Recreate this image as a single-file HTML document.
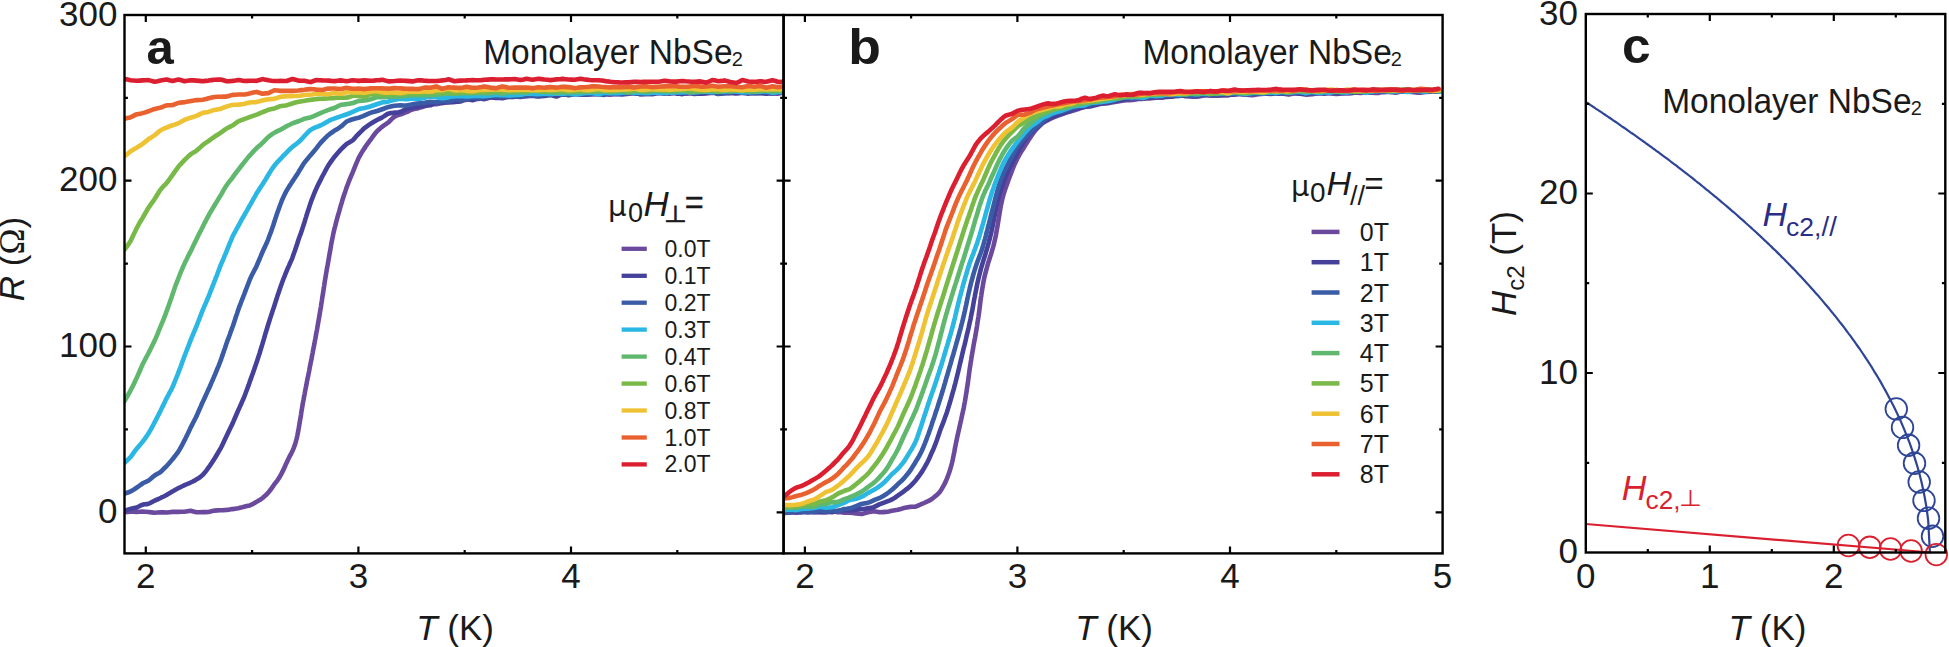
<!DOCTYPE html><html><head><meta charset="utf-8"><style>html,body{margin:0;padding:0;background:#fff;}svg{display:block}</style></head><body>
<svg width="1949" height="647" viewBox="0 0 1949 647">
<rect width="1949" height="647" fill="#fff"/>
<path d="M145.8,553.4L145.8,546.4M145.8,15.0L145.8,22.0M252.1,553.4L252.1,550.0M252.1,15.0L252.1,18.4M358.4,553.4L358.4,546.4M358.4,15.0L358.4,22.0M464.7,553.4L464.7,550.0M464.7,15.0L464.7,18.4M571.0,553.4L571.0,546.4M571.0,15.0L571.0,22.0M677.3,553.4L677.3,550.0M677.3,15.0L677.3,18.4M124.5,512.3L131.5,512.3M783.6,512.3L776.6,512.3M124.5,429.4L127.9,429.4M783.6,429.4L780.2,429.4M124.5,346.5L131.5,346.5M783.6,346.5L776.6,346.5M124.5,263.6L127.9,263.6M783.6,263.6L780.2,263.6M124.5,180.7L131.5,180.7M783.6,180.7L776.6,180.7M124.5,97.8L127.9,97.8M783.6,97.8L780.2,97.8M804.9,553.4L804.9,546.4M804.9,15.0L804.9,22.0M911.1,553.4L911.1,550.0M911.1,15.0L911.1,18.4M1017.4,553.4L1017.4,546.4M1017.4,15.0L1017.4,22.0M1123.7,553.4L1123.7,550.0M1123.7,15.0L1123.7,18.4M1230.0,553.4L1230.0,546.4M1230.0,15.0L1230.0,22.0M1336.3,553.4L1336.3,550.0M1336.3,15.0L1336.3,18.4M783.6,512.3L790.6,512.3M1442.6,512.3L1435.6,512.3M783.6,429.4L787.0,429.4M1442.6,429.4L1439.2,429.4M783.6,346.5L790.6,346.5M1442.6,346.5L1435.6,346.5M783.6,263.6L787.0,263.6M1442.6,263.6L1439.2,263.6M783.6,180.7L790.6,180.7M1442.6,180.7L1435.6,180.7M783.6,97.8L787.0,97.8M1442.6,97.8L1439.2,97.8" stroke="#000" stroke-width="2.2" fill="none"/>
<clipPath id="ca"><rect x="124.5" y="15.0" width="659.1" height="538.4"/></clipPath>
<g clip-path="url(#ca)" fill="none" stroke-width="4.6" stroke-linejoin="round" stroke-linecap="round">
<path d="M124.5,512.1 L127.5,512.0 L130.5,511.8 L133.5,511.8 L136.5,511.9 L139.5,511.7 L142.5,511.6 L145.5,511.8 L148.5,512.0 L151.5,512.4 L154.5,512.8 L157.5,512.5 L160.5,512.3 L163.5,512.4 L166.5,512.5 L169.5,512.2 L172.5,511.9 L175.5,511.9 L178.5,511.9 L181.5,511.8 L184.5,511.7 L187.5,511.2 L190.5,510.7 L193.5,511.5 L196.5,512.2 L199.5,512.2 L202.5,512.1 L205.5,512.1 L208.5,512.0 L211.5,511.3 L214.5,510.6 L217.5,510.4 L220.5,510.2 L223.4,510.1 L226.4,509.9 L229.4,509.6 L232.3,509.1 L235.2,508.7 L238.2,508.3 L241.1,507.6 L244.0,506.8 L246.9,506.1 L249.8,505.4 L252.6,504.2 L255.3,502.6 L257.8,501.1 L260.3,499.7 L262.6,498.0 L264.8,496.1 L267.0,494.0 L269.0,491.7 L270.9,489.3 L272.8,486.7 L274.5,484.1 L276.2,482.0 L277.8,479.8 L279.3,477.6 L280.7,475.2 L282.1,472.4 L283.5,469.6 L284.8,466.7 L286.0,463.9 L287.3,461.2 L288.6,458.5 L289.9,455.9 L291.3,453.3 L292.6,450.7 L293.8,447.8 L294.9,444.8 L295.8,441.8 L296.6,438.7 L297.3,435.7 L297.9,432.7 L298.5,429.6 L299.0,426.7 L299.5,423.7 L300.0,420.7 L300.5,417.8 L301.0,414.8 L301.4,411.8 L301.9,408.9 L302.4,405.9 L302.9,402.9 L303.5,400.0 L304.0,397.0 L304.6,394.1 L305.1,391.1 L305.7,388.2 L306.3,385.3 L306.8,382.4 L307.4,379.4 L308.0,376.5 L308.6,373.6 L309.2,370.7 L309.7,367.8 L310.3,364.8 L310.9,361.9 L311.5,359.0 L312.0,356.0 L312.6,353.1 L313.1,350.2 L313.7,347.2 L314.3,344.3 L314.8,341.4 L315.4,338.4 L315.9,335.5 L316.4,332.6 L317.0,329.7 L317.5,326.7 L318.0,323.8 L318.5,320.9 L319.0,318.0 L319.5,315.1 L320.0,312.1 L320.5,309.2 L321.0,306.3 L321.4,303.3 L321.9,300.4 L322.3,297.5 L322.8,294.5 L323.3,291.5 L323.7,288.6 L324.2,285.6 L324.6,282.6 L325.1,279.6 L325.6,276.6 L326.1,273.7 L326.6,270.7 L327.1,267.7 L327.7,264.7 L328.2,261.8 L328.7,258.8 L329.2,255.8 L329.8,252.8 L330.3,249.8 L330.8,246.8 L331.3,243.8 L331.9,240.8 L332.5,237.9 L333.1,234.9 L333.7,231.9 L334.4,228.9 L335.2,226.0 L335.9,223.1 L336.7,220.1 L337.5,217.2 L338.3,214.3 L339.2,211.3 L340.0,208.4 L340.8,205.5 L341.7,202.7 L342.5,199.8 L343.4,197.0 L344.3,194.2 L345.3,191.4 L346.2,188.6 L347.2,185.9 L348.2,183.2 L349.2,180.6 L350.3,178.0 L351.4,175.4 L352.5,172.8 L353.7,169.8 L354.9,166.8 L356.1,163.8 L357.4,160.8 L358.7,157.9 L360.1,155.4 L361.5,152.9 L363.0,150.5 L364.6,148.1 L366.2,145.6 L368.0,143.2 L369.7,140.8 L371.6,138.3 L373.5,135.6 L375.5,133.0 L377.5,130.7 L379.6,128.9 L381.7,127.1 L384.0,125.4 L386.3,123.8 L388.7,122.2 L391.1,119.7 L393.6,117.3 L396.2,115.8 L398.9,114.9 L401.6,114.0 L404.4,112.9 L407.2,111.8 L410.0,110.5 L412.8,109.3 L415.6,108.7 L418.5,108.2 L421.4,107.2 L424.3,106.3 L427.2,105.2 L430.1,104.1 L433.0,104.0 L436.0,104.1 L438.9,103.7 L441.9,103.1 L444.9,102.7 L447.8,102.4 L450.8,102.1 L453.8,101.9 L456.8,101.4 L459.7,100.7 L462.7,100.3 L465.7,99.9 L468.7,99.3 L471.7,98.6 L474.7,98.6 L477.7,98.9 L480.6,98.6 L483.6,98.0 L486.6,97.7 L489.6,97.5 L492.6,97.2 L495.6,96.7 L498.6,96.5 L501.6,96.4 L504.6,96.4 L507.6,96.3 L510.6,96.6 L513.6,96.9 L516.6,96.3 L519.6,95.1 L522.6,94.8 L525.6,94.8 L528.6,95.1 L531.6,95.5 L534.6,95.7 L537.5,96.0 L540.5,95.8 L543.5,95.4 L546.5,94.7 L549.5,93.9 L552.5,93.4 L555.5,93.2 L558.5,93.6 L561.5,94.4 L564.5,94.4 L567.5,94.0 L570.5,93.7 L573.5,93.6 L576.5,93.9 L579.5,94.5 L582.5,94.7 L585.5,94.7 L588.5,94.5 L591.5,94.1 L594.5,94.0 L597.5,94.0 L600.5,94.0 L603.5,94.1 L606.5,94.3 L609.5,94.6 L612.5,94.5 L615.5,94.2 L618.5,94.0 L621.5,94.0 L624.5,93.9 L627.5,93.9 L630.5,93.5 L633.5,92.8 L636.5,93.1 L639.5,94.0 L642.5,94.1 L645.5,94.0 L648.5,93.9 L651.5,93.7 L654.5,93.1 L657.5,92.4 L660.5,92.4 L663.5,92.8 L666.5,93.2 L669.5,93.6 L672.5,93.2 L675.5,92.3 L678.5,92.4 L681.5,92.9 L684.5,93.2 L687.5,93.6 L690.5,93.2 L693.5,92.5 L696.5,92.8 L699.5,93.7 L702.5,93.7 L705.5,93.4 L708.5,93.1 L711.5,92.9 L714.5,92.9 L717.5,93.1 L720.5,93.2 L723.5,93.3 L726.5,93.2 L729.5,93.0 L732.5,93.2 L735.5,93.5 L738.5,93.2 L741.5,92.6 L744.5,92.5 L747.5,92.6 L750.5,92.9 L753.5,93.3 L756.5,93.3 L759.5,92.9 L762.5,92.7 L765.5,92.4 L768.5,92.7 L771.5,93.2 L774.5,93.5 L777.5,93.6 L780.5,93.3" stroke="#6B4A9E"/>
<path d="M124.5,510.9 L127.3,509.9 L130.2,508.9 L133.0,508.3 L135.8,507.8 L138.7,506.5 L141.6,504.9 L144.4,504.2 L147.3,504.1 L150.2,503.1 L153.0,501.5 L155.8,500.1 L158.5,499.0 L161.1,497.7 L163.7,496.5 L166.1,495.2 L168.6,493.7 L171.1,492.2 L173.7,490.7 L176.3,489.2 L179.0,487.8 L181.8,486.5 L184.6,485.2 L187.3,484.0 L190.1,482.8 L192.8,481.5 L195.4,480.1 L198.0,478.6 L200.3,477.0 L202.6,475.1 L204.6,472.8 L206.5,470.3 L208.3,467.8 L210.1,465.4 L211.7,463.0 L213.3,460.5 L214.9,458.0 L216.4,455.5 L217.9,453.0 L219.4,450.4 L220.9,447.8 L222.3,445.1 L223.6,442.3 L224.9,439.5 L226.2,436.8 L227.5,434.1 L228.7,431.5 L230.0,428.8 L231.2,426.2 L232.5,423.6 L233.7,420.8 L234.9,418.0 L236.1,415.3 L237.3,412.5 L238.5,409.7 L239.7,407.1 L240.9,404.5 L242.0,401.9 L243.2,399.3 L244.3,396.7 L245.4,393.8 L246.5,390.8 L247.6,387.9 L248.7,384.9 L249.7,381.9 L250.8,378.9 L251.8,376.0 L252.9,373.1 L253.9,370.2 L254.9,367.3 L255.9,364.4 L256.9,361.6 L257.8,358.7 L258.7,355.9 L259.7,353.0 L260.5,350.2 L261.4,347.3 L262.3,344.4 L263.1,341.6 L264.0,338.7 L264.8,335.9 L265.6,333.0 L266.5,330.2 L267.4,327.3 L268.2,324.5 L269.1,321.7 L270.0,318.9 L270.9,316.1 L271.8,313.4 L272.7,310.6 L273.7,307.8 L274.6,305.0 L275.5,302.1 L276.5,299.1 L277.4,296.1 L278.4,293.2 L279.4,290.2 L280.4,287.3 L281.4,284.5 L282.4,281.7 L283.4,279.0 L284.5,276.3 L285.6,273.5 L286.7,270.9 L287.8,268.2 L289.0,265.6 L290.1,263.0 L291.3,260.4 L292.4,257.8 L293.5,254.6 L294.7,251.3 L295.8,248.0 L296.9,244.8 L297.9,241.5 L298.9,238.5 L299.9,235.8 L300.9,233.1 L301.8,230.4 L302.7,227.6 L303.6,224.9 L304.5,222.2 L305.3,219.4 L306.2,216.6 L307.0,213.9 L307.9,211.1 L308.8,208.4 L309.7,205.6 L310.6,202.9 L311.6,200.1 L312.7,197.3 L313.8,194.5 L314.9,191.8 L316.1,189.1 L317.4,186.3 L318.7,183.6 L320.1,180.9 L321.4,178.2 L322.8,175.5 L324.3,172.8 L325.7,170.1 L327.2,167.4 L328.8,164.8 L330.4,162.4 L332.0,160.1 L333.7,157.8 L335.6,155.5 L337.5,153.2 L339.6,150.9 L341.7,148.7 L343.9,146.5 L346.2,144.3 L348.4,142.9 L350.7,141.6 L352.9,140.1 L355.2,137.6 L357.4,135.1 L359.6,132.8 L361.9,130.6 L364.1,128.4 L366.5,126.6 L368.9,124.9 L371.4,123.3 L373.9,121.7 L376.5,120.2 L379.2,118.9 L381.9,117.6 L384.6,115.9 L387.4,114.0 L390.2,113.1 L393.1,112.9 L396.0,112.6 L398.9,112.3 L401.7,111.4 L404.6,109.9 L407.5,108.7 L410.3,108.0 L413.1,107.4 L416.0,107.0 L418.9,106.6 L421.9,106.0 L424.8,105.6 L427.8,105.4 L430.8,105.1 L433.8,103.7 L436.8,102.5 L439.7,102.6 L442.7,102.6 L445.7,102.3 L448.7,102.0 L451.7,101.9 L454.6,101.9 L457.6,101.7 L460.6,101.5 L463.6,100.0 L466.6,98.7 L469.6,99.5 L472.5,100.3 L475.5,99.3 L478.5,98.3 L481.5,98.7 L484.5,99.1 L487.5,98.2 L490.5,97.3 L493.5,97.6 L496.5,97.9 L499.5,98.0 L502.5,98.2 L505.5,97.6 L508.4,97.0 L511.4,96.9 L514.4,96.8 L517.4,96.8 L520.4,96.9 L523.4,96.5 L526.4,96.2 L529.4,96.0 L532.4,95.8 L535.4,96.1 L538.4,96.5 L541.4,96.2 L544.4,95.9 L547.4,95.4 L550.4,94.9 L553.4,95.7 L556.4,96.5 L559.4,95.3 L562.4,94.1 L565.4,94.5 L568.4,95.1 L571.4,94.7 L574.4,94.2 L577.4,94.3 L580.4,94.3 L583.4,94.4 L586.4,94.5 L589.4,94.3 L592.4,94.1 L595.4,94.2 L598.4,94.3 L601.4,93.6 L604.4,92.9 L607.4,92.9 L610.4,92.8 L613.4,93.4 L616.4,94.0 L619.4,93.6 L622.4,93.1 L625.4,93.0 L628.4,92.9 L631.4,92.8 L634.4,92.6 L637.4,93.4 L640.4,94.2 L643.4,94.0 L646.4,93.9 L649.4,94.0 L652.4,94.2 L655.4,93.5 L658.4,92.8 L661.4,93.0 L664.4,93.2 L667.4,92.9 L670.4,92.5 L673.4,93.1 L676.4,93.6 L679.4,93.8 L682.4,94.1 L685.4,93.3 L688.4,92.6 L691.4,93.2 L694.4,93.9 L697.4,93.8 L700.4,93.6 L703.4,93.2 L706.4,92.9 L709.4,92.3 L712.4,91.8 L715.4,92.7 L718.4,93.7 L721.4,93.3 L724.4,92.8 L727.4,92.6 L730.4,92.5 L733.4,92.7 L736.4,93.0 L739.4,93.0 L742.4,93.0 L745.4,93.3 L748.4,93.6 L751.4,92.9 L754.4,92.1 L757.4,92.7 L760.4,93.3 L763.4,93.5 L766.4,93.6 L769.4,93.5 L772.4,93.5 L775.4,93.0 L778.4,92.5 L781.4,92.3" stroke="#45419A"/>
<path d="M124.5,493.6 L127.2,492.7 L130.0,491.8 L132.7,490.3 L135.4,488.5 L138.1,486.7 L140.7,484.7 L143.3,483.0 L145.8,481.9 L148.3,480.7 L150.8,478.7 L153.2,476.6 L155.6,474.8 L157.9,473.6 L160.2,472.2 L162.4,470.2 L164.6,468.0 L166.8,465.8 L168.9,463.5 L170.9,461.1 L172.9,458.7 L174.7,456.5 L176.5,454.2 L178.2,451.8 L179.7,449.4 L181.1,446.9 L182.5,444.3 L183.8,441.7 L185.2,439.1 L186.5,436.3 L187.9,433.5 L189.2,430.7 L190.5,427.9 L191.8,425.4 L193.1,422.8 L194.4,420.3 L195.7,417.7 L197.0,415.1 L198.2,412.2 L199.5,409.3 L200.8,406.4 L202.0,403.5 L203.3,400.8 L204.5,398.2 L205.7,395.5 L206.9,392.9 L208.1,390.3 L209.3,387.7 L210.5,385.0 L211.7,382.2 L212.9,379.5 L214.0,376.8 L215.2,374.1 L216.3,371.3 L217.4,368.6 L218.6,365.8 L219.7,363.0 L220.8,360.2 L221.8,357.1 L222.9,354.1 L223.9,351.0 L225.0,348.0 L226.0,344.9 L227.0,342.0 L228.0,339.4 L229.0,336.7 L230.0,334.0 L230.9,331.3 L231.9,328.7 L233.0,325.8 L234.0,322.7 L235.0,319.6 L236.0,316.5 L237.1,313.4 L238.1,310.3 L239.1,307.4 L240.2,304.7 L241.2,301.9 L242.3,299.2 L243.3,296.5 L244.4,293.8 L245.5,290.9 L246.6,288.0 L247.7,285.1 L248.8,282.2 L249.9,279.4 L251.1,276.7 L252.3,274.3 L253.5,272.0 L254.7,269.6 L256.0,267.3 L257.2,264.5 L258.5,261.5 L259.8,258.5 L261.0,255.5 L262.3,252.5 L263.5,249.8 L264.7,247.2 L265.9,244.6 L267.1,242.0 L268.2,239.3 L269.2,236.5 L270.3,233.7 L271.3,230.9 L272.3,228.0 L273.3,225.2 L274.2,222.3 L275.1,219.5 L276.1,216.6 L277.0,213.8 L278.0,211.0 L279.0,208.2 L280.0,205.4 L281.1,202.5 L282.2,199.7 L283.5,196.9 L284.8,194.1 L286.2,191.4 L287.7,188.9 L289.2,186.4 L290.8,184.0 L292.3,181.6 L293.9,179.2 L295.4,176.9 L297.0,174.6 L298.5,172.2 L300.1,169.4 L301.8,166.7 L303.5,163.9 L305.4,161.4 L307.2,159.2 L309.1,156.9 L311.0,154.7 L312.9,152.5 L314.8,150.2 L316.7,147.9 L318.6,145.4 L320.6,142.9 L322.7,140.6 L324.9,138.3 L327.2,136.1 L329.5,134.2 L331.9,132.5 L334.2,130.8 L336.6,129.4 L339.0,128.0 L341.5,126.2 L344.0,123.9 L346.5,121.6 L349.1,120.5 L351.8,119.5 L354.6,118.7 L357.4,118.1 L360.2,117.2 L363.0,116.1 L365.8,114.9 L368.6,113.7 L371.4,112.5 L374.3,111.8 L377.1,111.0 L380.0,110.0 L382.9,109.0 L385.8,107.9 L388.7,106.9 L391.7,106.3 L394.6,105.7 L397.6,105.5 L400.6,105.4 L403.6,105.5 L406.5,105.6 L409.5,104.9 L412.5,104.2 L415.5,103.8 L418.5,103.4 L421.5,103.1 L424.5,102.8 L427.4,102.3 L430.4,101.8 L433.4,102.0 L436.4,102.2 L439.4,101.7 L442.4,101.1 L445.4,101.3 L448.4,101.5 L451.4,100.5 L454.3,99.3 L457.3,99.7 L460.3,100.2 L463.3,99.6 L466.3,99.0 L469.2,98.3 L472.2,97.6 L475.2,98.0 L478.2,98.5 L481.2,98.1 L484.2,97.6 L487.2,96.8 L490.2,96.1 L493.2,96.2 L496.2,96.4 L499.2,96.6 L502.2,96.8 L505.2,96.5 L508.1,96.1 L511.1,96.3 L514.1,96.5 L517.1,96.4 L520.1,96.2 L523.1,96.1 L526.1,95.9 L529.1,95.7 L532.1,95.5 L535.1,95.6 L538.1,95.8 L541.1,95.5 L544.1,95.2 L547.1,95.0 L550.1,94.9 L553.1,94.1 L556.1,93.3 L559.1,93.9 L562.1,94.7 L565.1,94.8 L568.1,94.9 L571.1,94.4 L574.1,93.9 L577.1,93.7 L580.1,93.6 L583.1,94.2 L586.1,94.8 L589.1,93.9 L592.1,92.8 L595.1,93.2 L598.1,93.8 L601.1,94.4 L604.1,94.9 L607.1,94.1 L610.1,93.0 L613.1,93.3 L616.1,93.7 L619.1,94.1 L622.1,94.4 L625.1,93.9 L628.1,93.3 L631.1,93.3 L634.1,93.5 L637.1,93.6 L640.1,93.7 L643.1,93.2 L646.1,92.6 L649.1,92.7 L652.1,92.9 L655.1,93.0 L658.1,93.1 L661.1,93.2 L664.1,93.4 L667.1,93.1 L670.1,92.9 L673.1,92.8 L676.1,92.7 L679.1,92.4 L682.1,92.2 L685.1,92.3 L688.1,92.4 L691.1,92.8 L694.1,93.1 L697.1,93.0 L700.1,92.7 L703.1,92.4 L706.1,92.1 L709.1,92.0 L712.1,92.0 L715.1,92.9 L718.1,94.0 L721.1,93.7 L724.1,93.2 L727.1,93.0 L730.1,92.9 L733.1,92.0 L736.1,91.0 L739.1,91.7 L742.1,92.7 L745.1,92.7 L748.1,92.7 L751.1,93.0 L754.1,93.3 L757.1,93.1 L760.1,92.7 L763.1,92.5 L766.1,92.3 L769.1,92.4 L772.1,92.6 L775.1,92.0 L778.1,91.2 L781.1,91.9" stroke="#3A5BA6"/>
<path d="M124.5,462.8 L126.6,460.8 L128.7,458.8 L130.9,456.6 L132.9,453.8 L135.0,450.9 L137.0,448.3 L139.0,446.1 L140.8,443.9 L142.6,441.7 L144.4,439.4 L146.0,437.1 L147.6,434.7 L149.2,432.2 L150.7,429.6 L152.2,427.0 L153.6,424.3 L155.0,421.6 L156.4,418.9 L157.8,416.2 L159.2,413.4 L160.6,410.7 L161.9,407.9 L163.3,405.1 L164.6,402.4 L165.9,399.6 L167.2,397.1 L168.5,394.8 L169.7,392.4 L171.0,390.1 L172.2,387.7 L173.4,385.0 L174.6,382.1 L175.8,379.2 L176.9,376.3 L178.1,373.4 L179.2,370.4 L180.4,367.4 L181.5,364.4 L182.6,361.3 L183.7,358.3 L184.8,355.3 L185.9,352.5 L187.0,349.7 L188.1,346.9 L189.1,344.1 L190.2,341.3 L191.2,338.7 L192.3,336.2 L193.3,333.7 L194.4,331.2 L195.4,328.7 L196.5,326.2 L197.6,323.3 L198.7,320.5 L199.8,317.6 L200.9,314.7 L202.0,311.9 L203.1,309.1 L204.3,306.4 L205.4,303.8 L206.6,301.1 L207.7,298.4 L208.9,295.7 L210.0,292.8 L211.1,289.9 L212.3,287.0 L213.4,284.1 L214.6,281.2 L215.7,278.2 L216.9,275.3 L218.0,272.3 L219.1,269.3 L220.2,266.4 L221.3,263.6 L222.5,261.0 L223.6,258.3 L224.7,255.7 L225.9,253.0 L227.0,250.2 L228.2,247.2 L229.4,244.1 L230.7,241.1 L231.9,238.1 L233.2,235.3 L234.5,232.8 L235.9,230.3 L237.2,227.8 L238.6,225.3 L240.0,222.8 L241.4,220.2 L242.8,217.7 L244.3,215.2 L245.7,212.6 L247.2,210.1 L248.6,207.5 L250.1,205.0 L251.6,202.3 L253.1,199.5 L254.7,196.8 L256.2,194.0 L257.8,191.5 L259.4,189.1 L261.0,186.6 L262.6,184.2 L264.1,181.7 L265.7,179.2 L267.2,176.7 L268.7,174.2 L270.3,171.6 L271.9,169.1 L273.6,166.7 L275.5,164.3 L277.4,162.1 L279.5,159.9 L281.5,157.8 L283.6,155.5 L285.8,153.3 L287.9,151.1 L290.1,149.0 L292.4,146.9 L294.7,145.2 L296.9,143.5 L299.2,141.6 L301.3,139.4 L303.5,137.1 L305.5,134.8 L307.6,132.6 L309.8,130.5 L312.3,128.9 L314.9,127.7 L317.6,126.6 L320.3,125.5 L322.9,124.2 L325.5,122.7 L328.1,121.2 L330.7,119.9 L333.4,118.8 L336.2,117.8 L339.1,116.8 L341.9,115.9 L344.8,115.0 L347.6,114.0 L350.4,112.9 L353.2,111.7 L356.0,110.3 L358.9,109.1 L361.7,108.5 L364.5,108.0 L367.4,107.3 L370.2,106.5 L373.1,105.5 L376.0,104.5 L378.9,103.5 L381.8,102.6 L384.7,102.1 L387.6,101.7 L390.6,100.9 L393.6,100.0 L396.5,99.4 L399.5,98.8 L402.5,98.9 L405.5,99.3 L408.5,99.1 L411.5,98.6 L414.5,98.7 L417.5,99.0 L420.5,98.7 L423.5,98.0 L426.5,97.3 L429.5,96.7 L432.5,96.8 L435.5,97.1 L438.5,97.7 L441.5,98.3 L444.5,98.1 L447.5,97.4 L450.4,96.8 L453.4,96.4 L456.4,96.2 L459.4,96.2 L462.4,96.3 L465.4,96.5 L468.4,96.4 L471.4,96.3 L474.4,96.0 L477.4,95.8 L480.4,95.9 L483.4,96.1 L486.4,96.0 L489.4,95.7 L492.4,95.3 L495.4,95.0 L498.4,95.0 L501.4,95.1 L504.4,95.2 L507.4,95.5 L510.4,95.4 L513.4,95.1 L516.4,94.9 L519.4,94.9 L522.4,94.4 L525.4,93.7 L528.4,93.6 L531.4,93.8 L534.4,93.9 L537.4,94.1 L540.4,94.0 L543.4,93.6 L546.4,93.6 L549.4,94.0 L552.4,94.0 L555.4,93.8 L558.4,93.7 L561.4,93.8 L564.4,93.6 L567.4,93.2 L570.4,93.5 L573.4,94.3 L576.4,94.4 L579.4,93.9 L582.4,93.5 L585.4,93.0 L588.4,92.9 L591.4,92.9 L594.4,93.4 L597.4,94.1 L600.4,93.9 L603.4,93.0 L606.4,92.8 L609.4,93.2 L612.4,93.3 L615.4,93.3 L618.4,93.1 L621.4,92.8 L624.4,92.5 L627.4,92.1 L630.4,92.2 L633.4,92.6 L636.4,92.7 L639.4,92.8 L642.4,92.9 L645.4,93.1 L648.4,93.1 L651.4,93.0 L654.4,92.8 L657.4,92.6 L660.4,92.6 L663.4,92.8 L666.4,92.9 L669.4,92.7 L672.4,92.6 L675.4,92.5 L678.4,92.4 L681.4,92.4 L684.4,92.3 L687.4,92.2 L690.4,92.3 L693.4,92.5 L696.4,92.3 L699.4,91.8 L702.4,91.6 L705.4,91.7 L708.4,91.9 L711.4,92.1 L714.4,91.9 L717.4,91.4 L720.4,91.4 L723.4,91.7 L726.4,91.5 L729.4,91.0 L732.4,91.1 L735.4,91.5 L738.4,91.8 L741.4,92.2 L744.4,92.3 L747.4,92.3 L750.4,92.2 L753.4,92.0 L756.4,91.9 L759.4,91.8 L762.4,91.5 L765.4,91.2 L768.4,91.6 L771.4,92.6 L774.4,92.7 L777.4,92.3 L780.4,92.2" stroke="#2AB7E3"/>
<path d="M124.5,401.2 L125.8,398.9 L127.2,396.5 L128.5,394.2 L129.8,391.8 L131.1,389.3 L132.5,386.7 L133.8,384.0 L135.1,381.3 L136.4,378.6 L137.7,375.6 L139.1,372.5 L140.4,369.5 L141.7,366.4 L143.0,363.5 L144.3,361.1 L145.6,358.6 L146.9,356.2 L148.2,353.7 L149.5,351.1 L150.8,348.5 L152.1,345.9 L153.4,343.3 L154.7,340.6 L156.0,337.6 L157.3,334.6 L158.5,331.5 L159.7,328.5 L160.9,325.6 L162.1,322.8 L163.3,320.0 L164.4,317.2 L165.5,314.4 L166.5,311.6 L167.5,308.9 L168.5,306.1 L169.5,303.3 L170.4,300.6 L171.4,297.8 L172.3,295.0 L173.3,292.2 L174.2,289.4 L175.2,286.6 L176.2,283.8 L177.3,281.1 L178.4,278.3 L179.5,275.5 L180.6,272.6 L181.8,269.8 L183.0,266.9 L184.3,264.1 L185.5,261.5 L186.8,259.0 L188.0,256.4 L189.3,253.9 L190.6,251.4 L191.9,248.7 L193.2,246.0 L194.5,243.3 L195.8,240.7 L197.1,238.0 L198.4,235.3 L199.7,232.7 L201.1,230.1 L202.4,227.4 L203.7,224.8 L205.1,222.1 L206.5,219.4 L207.9,216.8 L209.3,214.2 L210.7,211.7 L212.2,209.2 L213.7,206.7 L215.2,204.2 L216.8,201.6 L218.4,199.0 L220.0,196.4 L221.7,193.6 L223.3,190.7 L225.0,187.8 L226.8,185.0 L228.5,182.7 L230.3,180.4 L232.1,178.2 L233.9,175.7 L235.7,173.2 L237.5,170.8 L239.4,168.3 L241.2,166.0 L243.1,163.6 L244.9,161.3 L246.7,159.1 L248.5,156.9 L250.4,154.8 L252.4,152.6 L254.4,150.4 L256.5,148.3 L258.7,146.3 L260.9,144.4 L263.1,142.3 L265.4,139.9 L267.7,137.5 L270.1,135.6 L272.5,133.9 L275.0,132.4 L277.5,131.1 L280.1,129.9 L282.7,128.4 L285.3,126.9 L288.0,125.5 L290.7,124.2 L293.4,123.0 L296.2,122.0 L299.1,121.0 L301.9,119.8 L304.7,118.7 L307.5,118.1 L310.4,117.4 L313.2,116.3 L316.0,115.1 L318.8,113.9 L321.6,112.7 L324.4,111.5 L327.2,110.3 L330.0,109.3 L332.8,108.5 L335.7,107.4 L338.6,105.8 L341.5,104.7 L344.4,104.4 L347.3,104.0 L350.2,103.6 L353.1,103.0 L356.0,101.9 L358.9,100.9 L361.8,100.7 L364.8,100.5 L367.7,99.9 L370.6,99.2 L373.6,98.3 L376.6,97.3 L379.5,97.3 L382.5,97.2 L385.5,96.9 L388.5,96.6 L391.5,96.6 L394.5,96.6 L397.4,96.5 L400.4,96.4 L403.4,96.1 L406.4,95.7 L409.4,95.4 L412.4,95.0 L415.4,95.1 L418.4,95.2 L421.4,95.1 L424.4,95.0 L427.4,95.1 L430.4,95.3 L433.4,95.1 L436.4,94.8 L439.4,94.4 L442.4,94.0 L445.4,93.7 L448.4,93.4 L451.4,93.6 L454.4,93.8 L457.4,93.6 L460.4,93.4 L463.4,93.2 L466.4,93.0 L469.4,93.2 L472.4,93.3 L475.4,93.1 L478.4,92.9 L481.4,93.0 L484.4,93.1 L487.4,93.1 L490.4,93.1 L493.4,92.8 L496.4,92.4 L499.4,93.1 L502.4,93.8 L505.4,93.0 L508.4,92.1 L511.4,92.4 L514.4,92.8 L517.4,92.5 L520.4,92.1 L523.4,92.3 L526.4,92.6 L529.4,91.6 L532.4,90.5 L535.4,90.9 L538.4,91.3 L541.4,91.6 L544.4,91.9 L547.4,92.0 L550.4,92.1 L553.4,92.5 L556.4,93.1 L559.4,92.5 L562.4,91.9 L565.4,92.1 L568.4,92.4 L571.4,92.2 L574.4,92.1 L577.4,92.1 L580.4,92.2 L583.4,92.0 L586.4,91.9 L589.4,91.7 L592.4,91.5 L595.4,91.6 L598.4,91.8 L601.4,91.4 L604.4,90.9 L607.4,91.5 L610.4,92.2 L613.4,91.5 L616.4,90.9 L619.4,91.2 L622.4,91.5 L625.4,92.1 L628.4,92.6 L631.4,91.9 L634.4,91.2 L637.4,91.2 L640.4,91.3 L643.4,91.6 L646.4,91.9 L649.4,91.6 L652.4,91.3 L655.4,91.0 L658.4,90.7 L661.4,91.0 L664.4,91.3 L667.4,91.4 L670.4,91.5 L673.4,91.5 L676.4,91.5 L679.4,91.1 L682.4,90.6 L685.4,91.3 L688.4,92.1 L691.4,92.1 L694.4,92.0 L697.4,91.5 L700.4,91.0 L703.4,91.1 L706.4,91.1 L709.4,90.9 L712.4,90.7 L715.4,91.2 L718.4,91.8 L721.4,91.2 L724.4,90.6 L727.4,90.9 L730.4,91.4 L733.4,91.0 L736.4,90.7 L739.4,90.6 L742.4,90.6 L745.4,91.0 L748.4,91.4 L751.4,91.6 L754.4,91.8 L757.4,91.4 L760.4,91.0 L763.4,90.8 L766.4,90.6 L769.4,91.0 L772.4,91.5 L775.4,91.2 L778.4,91.0 L781.4,91.1" stroke="#60B86E"/>
<path d="M124.5,249.7 L126.1,247.6 L127.6,245.4 L129.1,243.3 L130.6,241.0 L132.0,238.0 L133.4,235.1 L134.8,232.1 L136.2,229.1 L137.6,226.5 L139.0,223.9 L140.4,221.4 L142.0,219.0 L143.5,216.3 L145.1,213.5 L146.7,210.8 L148.3,208.0 L150.0,205.6 L151.7,203.2 L153.4,200.8 L155.1,198.3 L156.8,195.6 L158.5,192.8 L160.2,190.1 L161.9,188.0 L163.6,186.2 L165.4,184.4 L167.2,182.3 L169.0,179.8 L170.8,177.4 L172.6,174.9 L174.5,172.1 L176.5,169.3 L178.5,166.6 L180.5,164.3 L182.6,162.1 L184.7,159.9 L186.8,157.8 L189.0,155.7 L191.2,153.9 L193.5,152.5 L195.8,151.3 L198.1,149.3 L200.5,147.1 L202.9,144.9 L205.3,143.2 L207.7,141.6 L210.1,139.8 L212.6,138.0 L215.1,136.3 L217.6,134.7 L220.1,133.1 L222.6,131.3 L225.2,129.4 L227.7,127.9 L230.3,126.6 L232.9,125.3 L235.4,123.4 L238.1,121.5 L240.7,120.4 L243.4,119.4 L246.1,118.4 L248.9,117.4 L251.7,116.4 L254.5,115.4 L257.4,114.4 L260.2,113.2 L263.0,112.0 L265.9,110.9 L268.7,109.7 L271.5,109.1 L274.4,108.4 L277.2,107.3 L280.1,106.2 L282.9,105.8 L285.8,105.5 L288.7,104.6 L291.6,103.7 L294.5,102.8 L297.5,102.0 L300.4,101.4 L303.4,100.9 L306.4,100.4 L309.4,100.0 L312.3,99.6 L315.3,99.2 L318.3,98.9 L321.3,98.8 L324.3,98.6 L327.2,98.5 L330.2,98.3 L333.2,98.1 L336.2,97.8 L339.2,97.6 L342.2,97.6 L345.2,97.8 L348.2,97.4 L351.2,96.3 L354.2,95.8 L357.1,95.8 L360.1,96.1 L363.1,96.7 L366.1,96.2 L369.1,94.6 L372.1,94.0 L375.1,94.2 L378.1,94.3 L381.1,94.4 L384.1,94.4 L387.1,94.2 L390.1,94.2 L393.1,94.1 L396.1,94.0 L399.1,93.7 L402.1,93.6 L405.1,93.7 L408.1,93.7 L411.1,93.5 L414.1,93.5 L417.1,93.6 L420.1,93.3 L423.1,92.4 L426.1,92.1 L429.1,92.4 L432.1,92.6 L435.1,92.8 L438.1,92.7 L441.1,92.3 L444.1,92.1 L447.1,92.0 L450.1,92.2 L453.1,92.7 L456.1,92.6 L459.1,92.2 L462.1,92.1 L465.1,92.4 L468.1,92.5 L471.1,92.5 L474.1,92.3 L477.1,92.1 L480.1,92.0 L483.1,92.0 L486.1,91.8 L489.1,91.5 L492.1,91.2 L495.1,90.7 L498.1,90.7 L501.0,91.0 L504.0,91.2 L507.0,91.3 L510.0,91.1 L513.0,90.8 L516.0,90.7 L519.0,90.7 L522.0,90.9 L525.0,91.1 L528.0,90.9 L531.0,90.4 L534.0,90.4 L537.0,90.8 L540.0,91.2 L543.0,91.5 L546.0,91.3 L549.0,90.6 L552.0,90.3 L555.0,90.5 L558.0,90.6 L561.0,90.5 L564.0,90.7 L567.0,91.2 L570.0,91.2 L573.0,90.9 L576.0,90.8 L579.0,90.9 L582.0,90.8 L585.0,90.3 L588.0,90.1 L591.0,90.3 L594.0,90.4 L597.0,90.4 L600.0,90.1 L603.0,89.6 L606.0,89.8 L609.0,90.8 L612.0,91.2 L615.0,91.0 L618.0,90.5 L621.0,89.7 L624.0,89.7 L627.0,90.4 L630.0,90.6 L633.0,90.3 L636.0,90.3 L639.0,90.5 L642.0,90.5 L645.0,90.5 L648.0,90.2 L651.0,89.6 L654.0,89.5 L657.0,89.9 L660.0,90.3 L663.0,90.8 L666.0,90.8 L669.0,90.1 L672.0,89.7 L675.0,89.6 L678.0,89.5 L681.0,89.4 L684.0,89.3 L687.0,89.4 L690.0,89.6 L693.0,90.1 L696.0,90.5 L699.0,90.9 L702.0,90.9 L705.0,90.5 L708.0,90.3 L711.0,90.3 L714.0,90.6 L717.0,91.1 L720.0,91.0 L723.0,90.2 L726.0,89.8 L729.0,89.7 L732.0,89.9 L735.0,90.3 L738.0,90.4 L741.0,90.4 L744.0,90.2 L747.0,89.8 L750.0,89.5 L753.0,89.5 L756.0,89.7 L759.0,90.1 L762.0,90.3 L765.0,90.3 L768.0,90.1 L771.0,89.6 L774.0,89.6 L777.0,89.9 L780.0,90.0" stroke="#79B948"/>
<path d="M124.5,156.3 L126.8,154.4 L129.2,152.4 L131.5,150.7 L133.9,149.2 L136.4,147.9 L138.9,146.3 L141.4,144.8 L143.9,142.9 L146.4,140.9 L148.9,138.8 L151.3,137.4 L153.7,135.9 L156.2,134.0 L158.6,131.8 L161.1,130.0 L163.7,128.7 L166.4,127.6 L169.1,126.5 L171.9,125.5 L174.6,124.6 L177.4,123.7 L180.2,122.3 L183.0,120.7 L185.8,119.4 L188.6,118.4 L191.4,117.5 L194.2,116.6 L197.1,115.6 L199.9,114.1 L202.8,112.8 L205.6,112.4 L208.5,111.9 L211.4,110.9 L214.3,109.9 L217.2,109.4 L220.1,109.0 L223.0,107.9 L225.9,106.8 L228.9,105.9 L231.8,105.0 L234.7,104.8 L237.7,104.8 L240.6,104.4 L243.6,104.0 L246.5,103.3 L249.5,102.5 L252.4,102.2 L255.4,102.2 L258.4,101.6 L261.3,100.8 L264.3,100.1 L267.2,99.5 L270.2,99.1 L273.2,99.0 L276.1,98.3 L279.1,97.2 L282.0,96.6 L285.0,96.4 L288.0,96.3 L291.0,96.1 L293.9,96.0 L296.9,96.0 L299.9,95.7 L302.9,95.2 L305.9,94.8 L308.9,94.7 L311.9,94.5 L314.9,94.0 L317.9,93.8 L320.9,93.8 L323.9,94.0 L326.8,94.2 L329.8,94.0 L332.8,93.1 L335.8,93.0 L338.8,93.7 L341.8,93.7 L344.8,92.7 L347.8,92.2 L350.8,92.3 L353.8,92.4 L356.8,92.4 L359.8,92.5 L362.8,92.8 L365.8,92.6 L368.8,91.9 L371.8,91.4 L374.8,91.1 L377.8,91.3 L380.8,92.1 L383.8,92.6 L386.8,92.6 L389.8,92.5 L392.8,92.4 L395.8,92.6 L398.8,93.1 L401.8,93.0 L404.8,92.2 L407.8,91.7 L410.8,91.6 L413.8,91.6 L416.8,91.8 L419.8,91.7 L422.8,91.4 L425.8,91.4 L428.8,91.7 L431.8,91.5 L434.8,90.5 L437.8,90.0 L440.8,90.2 L443.8,89.9 L446.8,88.9 L449.8,88.9 L452.8,90.1 L455.8,90.6 L458.8,90.2 L461.8,90.2 L464.8,90.5 L467.8,90.9 L470.8,91.2 L473.8,91.1 L476.8,90.4 L479.8,90.0 L482.8,89.9 L485.8,89.8 L488.8,89.7 L491.8,89.6 L494.8,89.5 L497.8,89.5 L500.8,89.5 L503.8,89.7 L506.8,90.0 L509.8,90.2 L512.8,90.0 L515.8,89.9 L518.8,89.9 L521.8,89.8 L524.8,89.7 L527.8,89.8 L530.8,90.1 L533.8,90.2 L536.8,90.1 L539.8,89.9 L542.8,89.7 L545.8,89.7 L548.8,89.9 L551.8,90.0 L554.8,89.7 L557.8,89.4 L560.8,89.1 L563.8,89.3 L566.8,90.0 L569.8,90.3 L572.8,90.0 L575.8,89.7 L578.8,89.2 L581.8,89.3 L584.8,89.9 L587.8,90.1 L590.8,89.9 L593.8,89.5 L596.8,88.9 L599.8,89.0 L602.8,89.9 L605.8,90.3 L608.8,89.9 L611.8,89.8 L614.8,89.9 L617.8,89.9 L620.8,89.7 L623.8,89.5 L626.8,89.4 L629.8,89.2 L632.8,88.7 L635.8,88.8 L638.8,89.6 L641.8,89.9 L644.8,89.6 L647.8,89.4 L650.8,89.3 L653.8,89.3 L656.8,89.5 L659.8,89.5 L662.8,89.5 L665.8,89.5 L668.8,89.7 L671.8,89.6 L674.8,89.3 L677.8,89.2 L680.8,89.2 L683.8,89.0 L686.8,88.4 L689.8,88.3 L692.8,88.8 L695.8,89.2 L698.8,89.5 L701.8,89.8 L704.8,90.0 L707.8,89.9 L710.8,89.4 L713.8,89.1 L716.8,89.2 L719.8,89.4 L722.8,89.9 L725.8,90.0 L728.8,89.4 L731.8,89.2 L734.8,89.5 L737.8,89.8 L740.8,90.1 L743.8,90.1 L746.8,89.6 L749.8,89.5 L752.8,89.8 L755.8,89.8 L758.8,89.2 L761.8,89.0 L764.8,89.3 L767.8,89.4 L770.8,89.3 L773.8,89.3 L776.8,89.3 L779.8,89.5" stroke="#EFC233"/>
<path d="M124.5,118.8 L127.3,118.1 L130.2,117.4 L133.0,116.1 L135.8,114.6 L138.7,113.9 L141.5,113.4 L144.4,112.6 L147.2,111.7 L150.1,110.7 L152.9,109.5 L155.8,108.7 L158.7,108.1 L161.6,107.3 L164.5,106.0 L167.5,105.2 L170.4,105.2 L173.3,104.9 L176.3,103.7 L179.2,102.7 L182.2,102.4 L185.1,102.1 L188.1,101.6 L191.0,101.1 L194.0,100.6 L196.9,100.1 L199.9,100.0 L202.9,99.7 L205.8,99.0 L208.8,98.2 L211.7,97.6 L214.7,97.0 L217.6,96.8 L220.6,96.7 L223.6,96.6 L226.6,96.6 L229.5,95.7 L232.5,94.9 L235.5,94.7 L238.5,94.5 L241.5,94.5 L244.5,94.5 L247.5,93.9 L250.4,93.3 L253.4,92.6 L256.4,91.9 L259.4,92.8 L262.4,93.7 L265.4,93.4 L268.4,93.1 L271.4,91.7 L274.4,90.2 L277.4,90.5 L280.4,90.9 L283.4,90.9 L286.4,90.9 L289.3,90.9 L292.3,90.9 L295.3,90.7 L298.3,90.5 L301.3,90.1 L304.3,89.8 L307.3,89.4 L310.3,89.1 L313.3,89.3 L316.3,89.6 L319.3,89.8 L322.3,90.0 L325.3,89.3 L328.3,88.6 L331.3,88.5 L334.3,88.5 L337.3,88.7 L340.3,89.0 L343.3,88.4 L346.3,87.8 L349.3,88.2 L352.3,88.7 L355.3,88.7 L358.3,88.6 L361.3,88.8 L364.3,89.1 L367.3,88.7 L370.3,88.4 L373.3,88.3 L376.3,88.2 L379.3,88.3 L382.3,88.4 L385.3,88.5 L388.3,88.6 L391.3,88.4 L394.3,88.1 L397.3,88.3 L400.3,88.4 L403.3,88.6 L406.3,88.8 L409.3,88.9 L412.3,88.9 L415.3,89.0 L418.3,89.1 L421.3,88.4 L424.3,87.6 L427.3,87.6 L430.3,87.7 L433.3,87.1 L436.3,86.4 L439.3,87.6 L442.3,88.8 L445.3,88.1 L448.3,87.3 L451.3,87.5 L454.3,87.6 L457.3,87.8 L460.3,87.9 L463.3,87.4 L466.3,86.8 L469.3,87.3 L472.3,87.8 L475.3,87.7 L478.3,87.5 L481.3,87.0 L484.3,86.4 L487.3,87.0 L490.3,87.6 L493.3,87.9 L496.3,88.2 L499.3,87.3 L502.3,86.4 L505.3,87.1 L508.3,87.8 L511.3,87.7 L514.3,87.5 L517.3,87.6 L520.3,87.6 L523.3,87.6 L526.3,87.6 L529.3,87.8 L532.3,88.1 L535.3,87.7 L538.3,87.2 L541.3,87.5 L544.3,87.8 L547.3,87.4 L550.3,87.0 L553.3,87.3 L556.3,87.6 L559.3,87.2 L562.3,86.7 L565.3,86.9 L568.3,87.1 L571.3,87.6 L574.3,88.1 L577.3,87.8 L580.3,87.4 L583.3,87.2 L586.3,87.0 L589.3,86.7 L592.3,86.3 L595.3,86.4 L598.3,86.5 L601.3,86.8 L604.3,87.0 L607.3,87.2 L610.3,87.4 L613.3,87.3 L616.3,87.1 L619.3,87.1 L622.3,87.1 L625.3,87.0 L628.3,86.8 L631.3,87.1 L634.3,87.5 L637.3,87.0 L640.3,86.5 L643.3,86.4 L646.3,86.3 L649.3,86.7 L652.3,87.1 L655.3,86.9 L658.3,86.7 L661.3,86.5 L664.3,86.4 L667.3,86.3 L670.3,86.2 L673.3,86.3 L676.3,86.3 L679.3,86.6 L682.3,86.8 L685.3,86.8 L688.3,86.7 L691.3,86.2 L694.3,85.7 L697.3,86.1 L700.3,86.6 L703.3,86.6 L706.3,86.5 L709.3,86.2 L712.3,85.8 L715.3,86.3 L718.3,86.8 L721.3,86.5 L724.3,86.2 L727.3,86.2 L730.3,86.2 L733.3,86.5 L736.3,86.8 L739.3,87.0 L742.3,87.2 L745.3,86.6 L748.3,86.0 L751.3,86.3 L754.3,86.7 L757.3,86.3 L760.3,85.9 L763.3,86.8 L766.3,87.8 L769.3,87.1 L772.3,86.2 L775.3,86.7 L778.3,87.2 L781.3,86.7" stroke="#EA6130"/>
<path d="M124.5,79.0 L127.5,79.6 L130.5,80.2 L133.5,80.5 L136.5,80.8 L139.5,80.6 L142.5,80.4 L145.5,80.3 L148.5,80.1 L151.5,80.9 L154.5,81.8 L157.5,81.2 L160.5,80.5 L163.5,80.0 L166.5,79.5 L169.5,80.3 L172.5,81.0 L175.5,80.2 L178.5,79.5 L181.5,80.3 L184.5,81.2 L187.5,80.7 L190.5,80.2 L193.5,80.4 L196.5,80.6 L199.5,80.9 L202.5,81.3 L205.5,80.9 L208.5,80.6 L211.5,80.1 L214.5,79.7 L217.5,79.6 L220.5,79.5 L223.5,80.3 L226.5,81.2 L229.5,81.1 L232.5,80.9 L235.5,80.5 L238.5,80.0 L241.5,80.5 L244.5,81.0 L247.5,80.9 L250.5,80.8 L253.5,80.8 L256.5,80.9 L259.5,80.0 L262.5,79.1 L265.5,79.7 L268.5,80.3 L271.5,80.7 L274.5,81.0 L277.5,81.0 L280.5,80.9 L283.5,81.0 L286.5,81.0 L289.5,80.0 L292.5,79.0 L295.5,79.8 L298.5,80.6 L301.5,80.7 L304.5,80.8 L307.5,81.4 L310.5,82.1 L313.5,81.0 L316.5,80.0 L319.5,80.2 L322.5,80.4 L325.5,80.5 L328.5,80.6 L331.5,80.9 L334.5,81.1 L337.5,80.7 L340.5,80.4 L343.5,80.8 L346.5,81.3 L349.5,80.8 L352.5,80.2 L355.5,80.5 L358.5,80.9 L361.5,80.6 L364.5,80.4 L367.5,80.6 L370.5,80.8 L373.5,80.6 L376.5,80.3 L379.5,80.1 L382.5,79.8 L385.5,80.6 L388.5,81.4 L391.5,81.2 L394.5,81.0 L397.5,80.7 L400.5,80.5 L403.5,80.7 L406.5,80.9 L409.5,81.1 L412.5,81.4 L415.5,80.8 L418.5,80.2 L421.5,80.4 L424.5,80.7 L427.5,80.9 L430.5,81.0 L433.5,81.0 L436.5,81.0 L439.5,80.7 L442.5,80.4 L445.5,79.9 L448.5,79.3 L451.5,80.3 L454.5,81.2 L457.5,80.9 L460.5,80.6 L463.5,80.5 L466.5,80.4 L469.5,80.2 L472.5,80.1 L475.5,80.2 L478.5,80.3 L481.5,80.1 L484.5,79.8 L487.5,79.6 L490.5,79.4 L493.5,79.4 L496.5,79.5 L499.5,79.5 L502.5,79.5 L505.5,79.4 L508.5,79.4 L511.5,79.2 L514.5,79.0 L517.5,79.5 L520.5,80.0 L523.5,79.4 L526.5,78.7 L529.5,79.3 L532.5,79.8 L535.5,79.3 L538.5,78.8 L541.5,79.1 L544.5,79.5 L547.5,79.8 L550.5,80.1 L553.5,79.7 L556.5,79.4 L559.5,79.2 L562.5,78.9 L565.5,79.2 L568.5,79.5 L571.5,79.6 L574.5,79.7 L577.5,79.2 L580.5,78.7 L583.5,79.2 L586.5,79.6 L589.5,80.0 L592.5,80.3 L595.5,80.2 L598.5,80.2 L601.5,80.5 L604.5,80.9 L607.4,81.4 L610.4,81.8 L613.4,82.1 L616.4,82.2 L619.4,82.4 L622.4,82.5 L625.4,82.4 L628.4,82.4 L631.4,82.1 L634.4,81.8 L637.4,81.9 L640.4,82.0 L643.4,81.9 L646.4,81.8 L649.4,81.7 L652.4,81.7 L655.4,81.7 L658.4,81.7 L661.4,81.3 L664.4,80.8 L667.4,81.1 L670.4,81.5 L673.4,81.6 L676.4,81.6 L679.4,81.3 L682.4,81.0 L685.4,81.3 L688.4,81.5 L691.4,81.7 L694.4,81.8 L697.4,81.6 L700.4,81.4 L703.4,82.0 L706.4,82.7 L709.4,81.4 L712.4,80.0 L715.4,80.6 L718.4,81.3 L721.4,80.9 L724.4,80.4 L727.4,81.2 L730.4,82.0 L733.4,82.5 L736.4,83.0 L739.4,81.6 L742.4,80.0 L745.4,80.7 L748.4,81.5 L751.4,81.7 L754.4,81.8 L757.4,81.6 L760.4,81.3 L763.4,81.6 L766.4,81.8 L769.4,81.0 L772.4,80.2 L775.4,81.0 L778.4,82.0 L781.4,81.9" stroke="#DC1F30"/>
</g>
<clipPath id="cb"><rect x="783.6" y="15.0" width="659.0" height="538.4"/></clipPath>
<g clip-path="url(#cb)" fill="none" stroke-width="4.6" stroke-linejoin="round" stroke-linecap="round">
<path d="M784.0,513.2 L787.0,512.8 L790.0,512.4 L793.0,512.5 L796.0,512.7 L799.0,512.4 L802.0,512.1 L805.0,511.6 L808.0,511.0 L811.0,511.6 L814.0,512.2 L817.0,512.2 L820.0,512.3 L823.0,512.4 L826.0,512.5 L829.0,512.0 L832.0,511.5 L835.0,511.8 L838.0,512.1 L841.0,512.3 L844.0,512.6 L847.0,512.6 L850.0,512.6 L853.0,513.0 L856.0,513.5 L859.0,513.8 L862.0,514.0 L865.0,513.1 L868.0,512.2 L871.0,511.7 L874.0,511.2 L876.9,511.7 L879.9,512.3 L882.9,512.1 L885.9,511.9 L888.8,511.4 L891.8,510.8 L894.8,510.3 L897.8,509.8 L900.7,509.0 L903.7,508.1 L906.6,507.5 L909.6,506.9 L912.5,506.7 L915.5,506.6 L918.4,505.5 L921.3,504.2 L924.1,503.0 L926.9,501.7 L929.5,500.4 L931.9,499.0 L934.1,497.2 L936.1,495.7 L937.9,494.0 L939.6,492.2 L941.3,489.7 L942.8,487.1 L944.3,484.4 L945.7,481.6 L946.9,478.7 L948.1,475.6 L949.2,472.5 L950.2,469.4 L951.1,466.4 L951.9,463.3 L952.6,460.3 L953.2,457.4 L953.8,454.4 L954.4,451.5 L954.9,448.5 L955.5,445.6 L956.1,442.6 L956.7,439.7 L957.3,436.8 L958.0,433.8 L958.6,431.0 L959.3,428.1 L959.9,425.2 L960.5,422.4 L961.2,419.5 L961.8,416.6 L962.4,413.7 L963.1,410.9 L963.7,408.0 L964.2,405.1 L964.8,402.1 L965.3,399.1 L965.8,396.0 L966.3,393.0 L966.8,390.0 L967.2,387.0 L967.7,384.0 L968.1,381.0 L968.5,378.0 L968.9,375.0 L969.3,372.0 L969.7,368.9 L970.2,366.0 L970.6,363.1 L971.1,360.2 L971.5,357.4 L972.0,354.5 L972.5,351.7 L973.0,348.8 L973.5,345.9 L974.0,343.1 L974.5,340.2 L975.1,337.4 L975.6,334.5 L976.1,331.7 L976.6,328.6 L977.1,325.6 L977.5,322.6 L978.0,319.6 L978.5,316.5 L978.9,313.5 L979.3,310.5 L979.7,307.4 L980.1,304.4 L980.4,301.4 L980.8,298.4 L981.3,295.3 L981.7,292.3 L982.2,289.3 L982.7,286.3 L983.2,283.3 L983.8,280.3 L984.4,277.3 L985.1,274.3 L985.9,271.3 L986.7,268.3 L987.5,265.4 L988.3,262.5 L989.2,259.8 L990.0,257.2 L990.9,254.5 L991.7,251.8 L992.5,249.1 L993.3,246.4 L994.0,243.7 L994.7,240.6 L995.4,237.6 L996.0,234.5 L996.5,231.5 L997.1,228.4 L997.6,225.4 L998.1,222.3 L998.6,219.2 L999.1,216.2 L999.6,213.1 L1000.1,210.1 L1000.6,207.2 L1001.1,204.3 L1001.8,201.4 L1002.4,198.5 L1003.2,195.7 L1004.0,192.9 L1004.9,190.1 L1005.9,187.3 L1006.9,184.5 L1007.9,181.7 L1008.9,178.8 L1010.0,176.0 L1011.1,173.2 L1012.2,170.3 L1013.3,167.5 L1014.4,164.7 L1015.7,162.0 L1017.0,159.2 L1018.4,156.6 L1019.8,154.0 L1021.3,151.5 L1022.9,149.1 L1024.5,146.6 L1026.1,143.9 L1027.8,141.2 L1029.5,138.6 L1031.3,136.0 L1033.1,133.4 L1035.0,130.9 L1037.0,128.5 L1039.2,126.3 L1041.4,124.3 L1043.7,122.5 L1046.2,121.1 L1048.7,119.7 L1051.3,118.3 L1054.0,117.1 L1056.7,116.0 L1059.4,115.1 L1062.2,114.0 L1065.0,113.0 L1067.9,112.1 L1070.7,111.4 L1073.6,110.5 L1076.5,109.6 L1079.4,108.7 L1082.3,107.7 L1085.2,106.9 L1088.2,106.3 L1091.1,105.5 L1094.1,104.5 L1097.0,103.9 L1099.9,103.9 L1102.9,103.8 L1105.8,103.5 L1108.8,103.1 L1111.8,102.6 L1114.7,102.1 L1117.7,101.5 L1120.7,100.9 L1123.6,100.5 L1126.6,100.1 L1129.6,100.1 L1132.6,100.0 L1135.6,99.4 L1138.5,98.9 L1141.5,98.9 L1144.5,98.8 L1147.5,98.5 L1150.5,98.2 L1153.5,97.9 L1156.5,97.6 L1159.5,97.8 L1162.5,97.8 L1165.5,97.0 L1168.5,96.4 L1171.5,96.3 L1174.4,96.2 L1177.4,95.9 L1180.4,95.7 L1183.4,95.6 L1186.4,95.6 L1189.4,96.2 L1192.4,96.7 L1195.4,96.7 L1198.4,96.5 L1201.4,95.9 L1204.4,95.4 L1207.4,95.5 L1210.4,95.6 L1213.4,95.7 L1216.4,95.8 L1219.4,95.6 L1222.4,95.4 L1225.4,95.5 L1228.4,95.4 L1231.4,94.6 L1234.4,94.0 L1237.4,94.1 L1240.4,94.3 L1243.4,94.5 L1246.4,94.8 L1249.4,95.0 L1252.4,95.2 L1255.4,94.7 L1258.4,94.3 L1261.4,94.0 L1264.4,93.7 L1267.4,93.8 L1270.4,93.9 L1273.4,93.7 L1276.4,93.6 L1279.4,93.5 L1282.4,93.5 L1285.4,94.1 L1288.4,94.6 L1291.4,93.9 L1294.4,93.3 L1297.4,93.5 L1300.4,93.7 L1303.4,94.3 L1306.4,94.7 L1309.4,94.4 L1312.4,94.1 L1315.4,93.8 L1318.4,93.5 L1321.4,93.1 L1324.4,92.9 L1327.4,93.1 L1330.4,93.4 L1333.4,93.7 L1336.4,93.9 L1339.4,93.6 L1342.4,93.3 L1345.4,93.4 L1348.4,93.5 L1351.4,93.1 L1354.4,92.8 L1357.4,92.8 L1360.4,92.9 L1363.4,92.6 L1366.4,92.4 L1369.4,92.5 L1372.4,92.7 L1375.4,92.9 L1378.4,93.0 L1381.4,92.1 L1384.4,91.4 L1387.4,91.8 L1390.4,92.1 L1393.4,92.1 L1396.4,92.1 L1399.4,91.8 L1402.4,91.6 L1405.4,91.6 L1408.4,91.7 L1411.4,92.0 L1414.4,92.2 L1417.4,92.6 L1420.4,92.8 L1423.4,92.3 L1426.4,91.9 L1429.4,91.8 L1432.4,91.6 L1435.4,90.9 L1438.4,90.5" stroke="#6B4A9E"/>
<path d="M784.0,511.8 L787.0,512.1 L790.0,512.4 L793.0,512.0 L796.0,511.7 L799.0,512.0 L802.0,512.3 L805.0,512.3 L808.0,512.4 L811.0,512.2 L814.0,512.0 L817.0,512.0 L820.0,512.0 L823.0,511.6 L826.0,511.1 L829.0,511.7 L832.0,512.3 L835.0,511.5 L838.0,510.8 L841.0,510.3 L844.0,509.9 L847.0,510.2 L850.0,510.5 L853.0,510.2 L856.0,509.8 L858.9,509.4 L861.9,509.0 L864.9,508.7 L867.8,508.3 L870.7,507.9 L873.6,507.2 L876.4,505.9 L879.2,504.4 L882.0,503.3 L884.7,502.3 L887.3,501.3 L890.0,500.3 L892.6,499.1 L895.2,497.5 L897.8,495.7 L900.3,493.9 L902.8,492.1 L905.2,490.2 L907.6,488.5 L909.8,486.6 L912.0,484.4 L914.0,482.2 L916.0,479.9 L917.8,477.5 L919.6,475.1 L921.3,472.7 L922.8,470.2 L924.4,467.7 L925.8,465.2 L927.2,462.6 L928.5,460.0 L929.8,457.2 L931.0,454.3 L932.3,451.5 L933.6,448.7 L934.8,445.7 L935.9,442.7 L937.0,439.7 L938.1,436.6 L939.1,433.5 L940.1,430.5 L941.1,427.9 L942.1,425.4 L943.1,422.8 L944.1,420.2 L945.0,417.5 L946.0,414.9 L947.0,412.0 L947.9,409.1 L948.8,406.1 L949.7,403.2 L950.6,400.2 L951.4,397.3 L952.2,394.4 L953.0,391.6 L953.8,388.8 L954.5,386.1 L955.3,383.3 L956.0,380.5 L956.7,377.7 L957.4,374.8 L958.1,372.0 L958.8,369.0 L959.5,366.0 L960.2,363.0 L960.9,360.0 L961.6,357.0 L962.3,354.0 L963.0,351.0 L963.7,348.0 L964.5,345.1 L965.2,342.2 L965.9,339.3 L966.5,336.5 L967.2,333.6 L967.9,330.7 L968.6,327.8 L969.2,325.0 L969.8,322.1 L970.5,319.2 L971.0,316.4 L971.6,313.6 L972.2,310.8 L972.7,307.9 L973.2,305.1 L973.7,302.2 L974.2,299.4 L974.8,296.5 L975.3,293.7 L975.9,290.8 L976.5,287.8 L977.1,284.6 L977.8,281.5 L978.5,278.4 L979.3,275.2 L980.1,272.1 L980.9,268.9 L981.8,265.8 L982.7,262.8 L983.6,259.9 L984.5,257.1 L985.4,254.2 L986.2,251.3 L987.1,248.5 L987.9,245.6 L988.7,242.7 L989.5,239.7 L990.2,236.8 L990.9,233.9 L991.6,230.9 L992.2,228.0 L992.8,225.0 L993.4,222.1 L994.0,219.1 L994.6,216.1 L995.2,213.1 L995.8,210.1 L996.4,207.1 L997.0,204.1 L997.7,201.1 L998.4,198.1 L999.2,195.2 L1000.1,192.2 L1001.0,189.4 L1002.0,186.6 L1003.0,183.9 L1004.0,181.1 L1005.1,178.3 L1006.1,175.6 L1007.2,173.1 L1008.3,170.5 L1009.5,168.0 L1010.8,165.6 L1012.1,163.2 L1013.4,160.4 L1014.9,157.6 L1016.3,154.8 L1017.8,152.1 L1019.3,149.3 L1020.9,146.6 L1022.5,143.8 L1024.2,141.2 L1026.0,138.8 L1027.8,136.5 L1029.6,134.2 L1031.6,132.3 L1033.6,130.5 L1035.7,128.8 L1037.9,126.6 L1040.2,124.4 L1042.6,122.4 L1045.1,120.8 L1047.7,119.4 L1050.3,118.0 L1052.9,116.8 L1055.6,115.7 L1058.3,114.8 L1061.1,113.9 L1063.9,113.0 L1066.7,112.1 L1069.6,111.0 L1072.5,109.9 L1075.4,108.9 L1078.3,107.9 L1081.2,107.3 L1084.2,106.7 L1087.1,106.5 L1090.0,106.4 L1093.0,105.7 L1095.9,105.1 L1098.9,104.0 L1101.8,103.0 L1104.8,102.6 L1107.7,102.4 L1110.7,101.9 L1113.7,101.3 L1116.6,100.8 L1119.6,100.3 L1122.6,99.8 L1125.6,99.3 L1128.5,98.7 L1131.5,98.1 L1134.5,98.0 L1137.5,97.9 L1140.5,97.5 L1143.5,96.9 L1146.5,97.3 L1149.4,97.9 L1152.4,97.7 L1155.4,97.3 L1158.4,96.6 L1161.4,95.9 L1164.4,96.2 L1167.4,96.9 L1170.4,96.7 L1173.4,96.4 L1176.4,95.6 L1179.4,94.7 L1182.4,95.3 L1185.4,96.3 L1188.4,96.2 L1191.4,95.8 L1194.4,95.9 L1197.4,96.2 L1200.4,95.4 L1203.4,94.3 L1206.4,94.5 L1209.4,94.9 L1212.4,94.9 L1215.4,94.8 L1218.4,94.7 L1221.4,94.6 L1224.4,94.5 L1227.4,94.4 L1230.4,94.6 L1233.4,94.8 L1236.4,94.2 L1239.4,93.4 L1242.4,93.2 L1245.4,93.2 L1248.4,93.2 L1251.4,93.1 L1254.4,93.2 L1257.4,93.4 L1260.4,93.4 L1263.4,93.3 L1266.4,93.5 L1269.4,93.8 L1272.4,93.8 L1275.4,93.7 L1278.4,93.6 L1281.4,93.5 L1284.4,93.2 L1287.4,93.0 L1290.4,92.9 L1293.4,93.0 L1296.4,93.3 L1299.4,93.6 L1302.4,93.6 L1305.4,93.5 L1308.4,93.3 L1311.4,93.1 L1314.4,92.9 L1317.4,92.7 L1320.4,93.1 L1323.4,93.6 L1326.4,93.2 L1329.4,92.5 L1332.4,92.6 L1335.4,92.9 L1338.4,93.1 L1341.4,93.2 L1344.4,92.8 L1347.4,92.4 L1350.4,92.5 L1353.4,92.8 L1356.4,92.3 L1359.4,91.7 L1362.4,92.0 L1365.4,92.6 L1368.4,92.5 L1371.4,92.3 L1374.4,91.7 L1377.4,91.2 L1380.4,91.5 L1383.4,92.2 L1386.4,91.9 L1389.4,91.4 L1392.4,91.8 L1395.4,92.4 L1398.4,92.0 L1401.4,91.4 L1404.4,91.3 L1407.4,91.4 L1410.4,91.5 L1413.4,91.6 L1416.4,91.4 L1419.4,91.2 L1422.4,91.3 L1425.4,91.4 L1428.4,91.2 L1431.4,90.9 L1434.4,91.1 L1437.4,91.4 L1440.4,91.3" stroke="#45419A"/>
<path d="M784.0,512.7 L787.0,512.3 L790.0,511.9 L793.0,511.3 L796.0,510.7 L799.0,511.2 L802.0,511.7 L805.0,511.7 L808.0,511.8 L811.0,511.8 L814.0,511.9 L817.0,511.1 L820.0,510.3 L823.0,511.0 L826.0,511.6 L829.0,510.9 L832.0,510.2 L835.0,510.8 L837.9,511.3 L840.9,510.2 L843.9,509.1 L846.8,508.8 L849.8,508.4 L852.7,507.4 L855.6,506.3 L858.4,505.2 L861.3,504.0 L864.1,503.4 L866.9,503.0 L869.7,502.1 L872.5,500.9 L875.2,499.7 L877.9,498.7 L880.6,497.5 L883.3,495.9 L886.0,494.3 L888.5,492.5 L891.0,490.5 L893.4,488.4 L895.8,486.3 L898.0,484.0 L900.1,482.1 L902.2,480.2 L904.2,478.1 L906.1,475.8 L908.0,473.5 L909.8,471.1 L911.5,468.6 L913.1,466.1 L914.7,463.5 L916.2,460.9 L917.7,458.5 L919.1,456.1 L920.4,453.6 L921.7,451.0 L922.9,448.3 L924.1,445.5 L925.2,442.7 L926.3,439.9 L927.3,437.1 L928.4,434.2 L929.4,431.3 L930.4,428.4 L931.4,425.5 L932.3,422.6 L933.3,419.7 L934.3,416.9 L935.2,414.1 L936.1,411.2 L937.1,408.4 L938.0,405.6 L938.9,402.8 L939.8,400.0 L940.7,397.1 L941.6,394.2 L942.5,391.3 L943.4,388.4 L944.2,385.5 L945.1,382.6 L945.9,379.7 L946.7,376.9 L947.6,374.0 L948.4,371.2 L949.2,368.3 L950.1,365.4 L950.9,362.6 L951.7,359.7 L952.5,356.9 L953.4,354.0 L954.2,351.2 L955.0,348.4 L955.8,345.5 L956.6,342.7 L957.4,339.8 L958.2,337.0 L959.0,334.1 L959.8,331.2 L960.6,328.3 L961.3,325.4 L962.1,322.5 L962.8,319.7 L963.5,316.8 L964.2,313.8 L964.9,310.8 L965.5,307.7 L966.2,304.7 L966.8,301.7 L967.5,298.6 L968.1,295.6 L968.8,292.6 L969.5,289.5 L970.2,286.5 L970.9,283.5 L971.7,280.6 L972.5,277.6 L973.3,274.7 L974.2,271.7 L975.1,268.8 L976.0,265.9 L976.9,263.3 L977.8,260.7 L978.8,258.1 L979.7,255.6 L980.7,253.0 L981.6,250.4 L982.5,247.6 L983.4,244.6 L984.2,241.6 L985.1,238.6 L985.9,235.6 L986.6,232.6 L987.4,229.6 L988.1,226.7 L988.9,223.8 L989.6,221.0 L990.3,218.2 L991.0,215.3 L991.8,212.5 L992.5,209.6 L993.2,206.8 L994.0,204.0 L994.7,200.9 L995.5,197.8 L996.4,194.6 L997.2,191.5 L998.1,188.4 L999.0,185.3 L1000.0,182.2 L1001.0,179.5 L1002.0,176.8 L1003.1,174.2 L1004.3,171.6 L1005.5,169.0 L1006.8,166.4 L1008.1,163.7 L1009.4,161.1 L1010.9,158.5 L1012.4,155.9 L1013.9,153.1 L1015.4,150.3 L1017.1,147.6 L1018.7,145.0 L1020.5,142.7 L1022.3,140.5 L1024.2,138.4 L1026.2,136.4 L1028.2,134.4 L1030.3,132.5 L1032.4,130.5 L1034.6,128.5 L1036.8,126.5 L1039.1,124.7 L1041.4,122.9 L1043.7,120.7 L1046.2,118.4 L1048.7,116.3 L1051.4,114.8 L1054.1,113.4 L1056.8,112.7 L1059.6,112.2 L1062.4,111.4 L1065.3,110.5 L1068.2,109.6 L1071.1,108.6 L1074.0,107.5 L1076.9,106.4 L1079.8,106.0 L1082.8,106.0 L1085.7,105.6 L1088.7,105.1 L1091.6,104.5 L1094.6,103.9 L1097.5,103.1 L1100.5,102.3 L1103.4,101.8 L1106.4,101.5 L1109.3,101.2 L1112.3,100.9 L1115.3,100.4 L1118.2,99.6 L1121.2,98.8 L1124.2,98.0 L1127.2,97.7 L1130.2,98.1 L1133.1,98.2 L1136.1,98.0 L1139.1,97.7 L1142.1,97.3 L1145.1,97.1 L1148.1,97.1 L1151.1,96.9 L1154.1,96.3 L1157.1,95.8 L1160.1,95.8 L1163.1,95.7 L1166.1,95.5 L1169.1,95.4 L1172.0,95.5 L1175.0,95.7 L1178.0,95.9 L1181.0,95.8 L1184.0,95.1 L1187.0,94.9 L1190.0,95.5 L1193.0,95.8 L1196.0,95.6 L1199.0,95.3 L1202.0,95.0 L1205.0,94.8 L1208.0,94.6 L1211.0,94.6 L1214.0,94.9 L1217.0,94.9 L1220.0,94.2 L1223.0,93.8 L1226.0,93.8 L1229.0,93.6 L1232.0,93.3 L1235.0,93.2 L1238.0,93.6 L1241.0,93.9 L1244.0,94.1 L1247.0,94.2 L1250.0,93.9 L1253.0,93.7 L1256.0,93.6 L1259.0,93.5 L1262.0,93.2 L1265.0,93.1 L1268.0,93.2 L1271.0,93.0 L1274.0,92.5 L1277.0,92.4 L1280.0,93.1 L1283.0,93.4 L1286.0,92.9 L1289.0,92.5 L1292.0,92.3 L1295.0,92.1 L1298.0,92.2 L1301.0,92.2 L1304.0,92.2 L1307.0,92.3 L1310.0,92.7 L1313.0,93.1 L1316.0,93.1 L1319.0,92.8 L1322.0,92.1 L1325.0,91.8 L1328.0,92.4 L1331.0,92.8 L1334.0,92.8 L1337.0,92.6 L1340.0,92.1 L1343.0,91.7 L1346.0,91.4 L1349.0,91.2 L1352.0,91.4 L1355.0,91.5 L1358.0,91.5 L1361.0,91.6 L1364.0,91.9 L1367.0,91.9 L1370.0,91.7 L1373.0,91.3 L1376.0,90.8 L1379.0,90.7 L1382.0,91.3 L1385.0,91.5 L1388.0,91.0 L1391.0,90.8 L1394.0,91.5 L1397.0,91.7 L1400.0,91.1 L1403.0,90.7 L1406.0,90.8 L1409.0,90.8 L1412.0,90.7 L1415.0,90.7 L1418.0,90.7 L1421.0,91.0 L1424.0,91.5 L1427.0,91.7 L1430.0,91.6 L1433.0,91.4 L1436.0,91.3 L1439.0,91.2" stroke="#3A5BA6"/>
<path d="M784.0,510.2 L787.0,509.8 L790.0,509.5 L793.0,509.8 L796.0,510.1 L799.0,509.5 L802.0,509.0 L805.0,508.8 L808.0,508.6 L810.9,508.3 L813.9,507.9 L816.9,507.4 L819.9,506.8 L822.9,507.2 L825.9,507.7 L828.8,507.5 L831.8,507.2 L834.7,506.3 L837.7,505.3 L840.6,504.2 L843.4,503.1 L846.3,501.7 L849.1,500.2 L851.9,499.5 L854.6,499.1 L857.4,498.4 L860.1,497.4 L862.8,496.2 L865.4,494.6 L868.1,492.9 L870.7,491.6 L873.2,490.2 L875.8,488.7 L878.2,487.1 L880.6,485.4 L882.9,483.4 L885.2,481.4 L887.4,479.1 L889.6,476.7 L891.8,474.3 L893.9,472.5 L896.0,470.6 L898.0,468.7 L900.0,466.4 L901.9,464.1 L903.8,461.7 L905.6,458.9 L907.4,456.1 L909.1,453.2 L910.7,450.6 L912.2,448.2 L913.6,445.7 L914.9,443.1 L916.1,440.5 L917.2,437.6 L918.2,434.7 L919.2,431.7 L920.2,428.8 L921.2,425.9 L922.1,422.9 L923.0,420.2 L923.9,417.4 L924.8,414.7 L925.7,412.0 L926.6,409.2 L927.5,406.5 L928.4,403.7 L929.3,400.9 L930.3,398.1 L931.2,395.4 L932.2,392.6 L933.2,389.8 L934.2,387.0 L935.2,384.0 L936.2,381.0 L937.1,378.0 L938.1,375.0 L939.1,372.0 L940.0,369.0 L941.0,366.1 L941.9,363.2 L942.8,360.2 L943.7,357.2 L944.6,354.3 L945.4,351.3 L946.2,348.5 L947.1,345.9 L947.9,343.2 L948.6,340.6 L949.4,338.0 L950.2,335.3 L951.0,332.7 L951.7,330.0 L952.5,327.2 L953.3,324.2 L954.0,321.2 L954.8,318.3 L955.5,315.3 L956.2,312.3 L956.9,309.3 L957.6,306.4 L958.3,303.4 L959.0,300.6 L959.7,297.8 L960.5,294.9 L961.2,292.1 L962.0,289.3 L962.7,286.5 L963.5,283.7 L964.4,280.7 L965.2,277.6 L966.2,274.5 L967.1,271.4 L968.0,268.3 L969.0,265.2 L970.0,262.1 L971.0,259.5 L972.0,256.9 L973.0,254.3 L974.0,251.7 L975.0,249.1 L975.9,246.5 L976.9,243.7 L977.8,241.0 L978.7,238.2 L979.6,235.4 L980.4,232.6 L981.2,229.8 L982.0,227.0 L982.9,224.1 L983.7,221.2 L984.5,218.3 L985.3,215.4 L986.1,212.5 L986.9,209.6 L987.7,206.8 L988.5,203.8 L989.4,200.7 L990.3,197.6 L991.3,194.6 L992.2,191.5 L993.3,188.5 L994.3,185.5 L995.3,182.8 L996.4,180.0 L997.5,177.2 L998.5,174.5 L999.7,171.8 L1000.8,169.0 L1002.0,166.2 L1003.3,163.4 L1004.7,160.7 L1006.2,158.1 L1007.7,155.6 L1009.2,153.3 L1010.8,150.9 L1012.4,148.5 L1014.2,146.1 L1015.9,143.7 L1017.8,141.3 L1019.7,138.9 L1021.7,136.5 L1023.8,134.1 L1025.9,131.6 L1028.0,129.2 L1030.2,126.9 L1032.4,125.4 L1034.7,123.9 L1037.1,122.2 L1039.5,120.2 L1042.0,118.2 L1044.5,117.0 L1047.2,115.8 L1049.9,114.6 L1052.6,113.3 L1055.4,112.3 L1058.2,111.6 L1061.0,110.8 L1063.9,109.8 L1066.8,108.7 L1069.7,107.5 L1072.6,106.5 L1075.5,106.1 L1078.5,105.8 L1081.4,105.6 L1084.4,105.4 L1087.3,104.1 L1090.3,103.0 L1093.2,102.8 L1096.2,102.5 L1099.1,102.2 L1102.1,102.0 L1105.0,101.5 L1108.0,101.1 L1111.0,100.4 L1113.9,99.8 L1116.9,98.8 L1119.9,97.9 L1122.9,97.5 L1125.8,97.2 L1128.8,97.3 L1131.8,97.5 L1134.8,97.3 L1137.8,97.1 L1140.8,97.4 L1143.8,97.9 L1146.8,96.7 L1149.8,95.5 L1152.8,95.8 L1155.8,96.2 L1158.7,96.0 L1161.7,95.7 L1164.7,94.9 L1167.7,94.0 L1170.7,94.1 L1173.7,94.2 L1176.7,94.4 L1179.7,94.6 L1182.7,94.3 L1185.7,94.0 L1188.7,94.0 L1191.7,94.0 L1194.7,94.1 L1197.7,94.3 L1200.7,93.8 L1203.7,93.4 L1206.7,93.6 L1209.7,93.9 L1212.7,93.6 L1215.7,93.2 L1218.7,93.1 L1221.7,93.1 L1224.7,93.3 L1227.7,93.6 L1230.7,93.2 L1233.7,92.9 L1236.7,93.0 L1239.7,93.2 L1242.7,93.5 L1245.7,93.9 L1248.7,93.5 L1251.7,92.9 L1254.7,92.8 L1257.7,92.7 L1260.7,92.9 L1263.7,93.1 L1266.7,92.8 L1269.7,92.4 L1272.7,92.8 L1275.7,93.2 L1278.7,92.5 L1281.7,91.8 L1284.7,92.2 L1287.7,92.7 L1290.7,92.4 L1293.7,92.1 L1296.7,91.9 L1299.7,91.8 L1302.7,92.4 L1305.7,93.2 L1308.7,92.5 L1311.7,91.7 L1314.7,92.3 L1317.7,93.0 L1320.7,92.8 L1323.7,92.4 L1326.7,92.5 L1329.7,92.7 L1332.7,92.1 L1335.7,91.3 L1338.7,91.8 L1341.7,92.4 L1344.7,92.5 L1347.7,92.6 L1350.7,92.1 L1353.7,91.6 L1356.7,91.5 L1359.7,91.5 L1362.7,92.1 L1365.7,92.9 L1368.7,92.3 L1371.7,91.6 L1374.7,91.3 L1377.7,91.1 L1380.7,91.0 L1383.7,90.9 L1386.7,91.1 L1389.7,91.4 L1392.7,91.4 L1395.7,91.3 L1398.7,91.2 L1401.7,91.2 L1404.7,91.5 L1407.7,92.0 L1410.7,91.4 L1413.7,90.8 L1416.7,90.9 L1419.7,91.1 L1422.7,91.4 L1425.7,91.6 L1428.7,90.9 L1431.7,90.2 L1434.7,90.6 L1437.7,91.2 L1440.7,91.4" stroke="#2AB7E3"/>
<path d="M784.0,508.4 L787.0,507.8 L790.0,507.3 L793.0,507.7 L795.9,508.0 L798.9,507.1 L801.9,506.1 L804.9,506.5 L807.9,506.8 L810.9,506.8 L813.8,506.8 L816.8,505.5 L819.8,504.2 L822.8,504.1 L825.7,504.0 L828.7,503.1 L831.6,502.1 L834.5,502.0 L837.4,502.1 L840.3,501.0 L843.2,499.7 L846.0,498.6 L848.8,497.6 L851.5,496.5 L854.2,495.3 L856.9,494.1 L859.5,492.7 L862.1,491.3 L864.6,489.5 L867.1,487.6 L869.6,485.9 L872.0,484.2 L874.3,482.4 L876.5,480.3 L878.7,478.1 L880.7,475.9 L882.7,473.7 L884.6,471.5 L886.4,469.2 L888.1,466.5 L889.7,463.8 L891.3,461.0 L892.8,458.4 L894.3,456.0 L895.7,453.5 L897.0,451.0 L898.4,448.4 L899.7,445.4 L901.0,442.5 L902.3,439.5 L903.6,436.5 L904.9,433.9 L906.1,431.3 L907.3,428.7 L908.5,426.2 L909.7,423.6 L910.9,421.1 L912.1,418.6 L913.2,416.1 L914.3,413.6 L915.5,411.1 L916.6,408.3 L917.7,405.3 L918.8,402.4 L919.9,399.4 L921.0,396.4 L922.1,393.4 L923.1,390.4 L924.2,387.5 L925.3,384.5 L926.3,381.6 L927.3,378.6 L928.3,375.7 L929.3,373.1 L930.3,370.4 L931.3,367.7 L932.2,365.0 L933.1,362.3 L934.0,359.5 L934.9,356.6 L935.8,353.6 L936.6,350.6 L937.4,347.6 L938.2,344.6 L939.0,341.6 L939.8,338.6 L940.5,335.7 L941.3,332.7 L942.1,329.8 L942.8,326.8 L943.6,323.9 L944.4,320.9 L945.2,318.0 L946.0,315.0 L946.9,312.2 L947.7,309.4 L948.5,306.6 L949.4,303.8 L950.2,301.0 L951.1,298.2 L951.9,295.4 L952.8,292.7 L953.6,289.9 L954.5,287.2 L955.4,284.4 L956.3,281.7 L957.1,278.9 L958.0,276.2 L958.9,273.3 L959.8,270.4 L960.7,267.5 L961.6,264.6 L962.5,261.8 L963.5,258.9 L964.4,256.0 L965.3,253.1 L966.2,250.2 L967.1,247.3 L968.0,244.4 L968.9,241.5 L969.8,238.5 L970.7,235.6 L971.6,232.7 L972.5,229.7 L973.3,226.8 L974.2,223.8 L975.0,220.9 L975.9,218.0 L976.8,215.1 L977.7,212.2 L978.5,209.3 L979.4,206.4 L980.4,203.6 L981.3,200.7 L982.3,197.9 L983.3,195.4 L984.4,192.8 L985.5,190.3 L986.7,187.9 L987.9,185.4 L989.2,182.6 L990.4,179.7 L991.7,176.8 L993.0,174.0 L994.3,171.1 L995.5,168.3 L996.8,165.4 L998.1,162.6 L999.5,159.7 L1001.0,157.0 L1002.5,154.2 L1004.1,151.5 L1005.8,148.8 L1007.5,146.4 L1009.2,144.1 L1011.0,141.9 L1012.9,140.0 L1014.9,138.5 L1017.0,137.1 L1019.1,135.0 L1021.2,132.1 L1023.4,129.2 L1025.6,127.2 L1027.8,125.4 L1030.0,123.6 L1032.3,121.7 L1034.6,119.8 L1036.9,118.1 L1039.4,116.4 L1042.1,115.0 L1044.8,113.8 L1047.6,112.6 L1050.4,111.4 L1053.3,110.1 L1056.1,109.1 L1059.0,108.4 L1061.9,108.1 L1064.8,108.1 L1067.7,107.3 L1070.6,105.9 L1073.5,105.2 L1076.5,105.1 L1079.4,104.4 L1082.4,103.1 L1085.3,102.3 L1088.3,102.2 L1091.2,102.0 L1094.2,101.7 L1097.1,101.4 L1100.1,101.1 L1103.1,100.6 L1106.0,99.5 L1109.0,98.8 L1112.0,98.9 L1114.9,98.8 L1117.9,98.4 L1120.9,97.9 L1123.9,97.2 L1126.9,96.8 L1129.8,96.8 L1132.8,96.7 L1135.8,96.0 L1138.8,95.5 L1141.8,95.3 L1144.8,95.2 L1147.8,95.2 L1150.8,95.0 L1153.8,94.0 L1156.8,93.5 L1159.8,94.1 L1162.8,94.4 L1165.8,94.0 L1168.8,93.7 L1171.8,93.4 L1174.8,93.3 L1177.8,93.5 L1180.8,93.7 L1183.8,94.0 L1186.8,94.1 L1189.7,93.7 L1192.7,93.5 L1195.7,93.9 L1198.7,94.0 L1201.7,93.2 L1204.7,92.6 L1207.7,92.4 L1210.7,92.6 L1213.7,93.3 L1216.7,93.8 L1219.7,93.4 L1222.7,93.1 L1225.7,93.2 L1228.7,93.2 L1231.7,92.6 L1234.7,92.3 L1237.7,92.7 L1240.7,93.0 L1243.7,92.8 L1246.7,92.6 L1249.7,92.7 L1252.7,92.7 L1255.7,92.5 L1258.7,92.4 L1261.7,92.7 L1264.7,92.8 L1267.7,92.2 L1270.7,91.7 L1273.7,91.6 L1276.7,91.4 L1279.7,91.3 L1282.7,91.3 L1285.7,92.1 L1288.7,92.5 L1291.7,91.9 L1294.7,91.4 L1297.7,91.3 L1300.7,91.2 L1303.7,91.2 L1306.7,91.2 L1309.7,91.3 L1312.7,91.3 L1315.7,91.1 L1318.7,90.9 L1321.7,91.2 L1324.7,91.3 L1327.7,91.2 L1330.7,91.1 L1333.7,91.1 L1336.7,91.1 L1339.7,90.9 L1342.7,90.9 L1345.7,91.1 L1348.7,91.3 L1351.7,91.1 L1354.7,91.0 L1357.7,91.2 L1360.7,91.3 L1363.7,91.3 L1366.7,91.3 L1369.7,91.3 L1372.7,91.1 L1375.7,90.3 L1378.7,89.8 L1381.7,90.3 L1384.7,90.6 L1387.7,90.5 L1390.7,90.5 L1393.7,91.0 L1396.7,91.1 L1399.7,90.4 L1402.7,89.9 L1405.7,90.1 L1408.7,90.3 L1411.7,90.4 L1414.7,90.4 L1417.7,90.4 L1420.7,90.5 L1423.7,90.8 L1426.7,91.0 L1429.7,90.5 L1432.7,90.3 L1435.7,90.7 L1438.7,90.8" stroke="#60B86E"/>
<path d="M784.0,507.3 L787.0,507.0 L790.0,506.8 L793.0,506.4 L796.0,506.0 L798.9,505.9 L801.9,505.6 L804.9,504.8 L807.9,503.8 L810.8,503.9 L813.7,504.0 L816.7,502.9 L819.5,501.7 L822.4,501.1 L825.2,500.6 L828.0,499.4 L830.8,498.1 L833.6,496.5 L836.3,494.7 L839.0,493.1 L841.7,492.0 L844.4,490.8 L847.0,490.0 L849.6,489.1 L852.1,487.4 L854.6,485.4 L857.0,483.4 L859.4,481.5 L861.6,479.5 L863.8,477.6 L866.0,475.6 L868.1,473.6 L870.1,471.2 L872.0,468.8 L873.9,466.4 L875.8,464.0 L877.6,461.6 L879.3,459.1 L881.0,456.6 L882.6,454.2 L884.1,451.7 L885.6,449.2 L887.1,446.7 L888.5,444.0 L890.0,441.4 L891.4,438.8 L892.7,436.2 L894.1,433.7 L895.4,431.2 L896.7,428.7 L898.0,426.2 L899.3,423.3 L900.6,420.3 L901.8,417.4 L903.1,414.5 L904.3,411.7 L905.5,409.2 L906.7,406.6 L907.9,404.1 L909.0,401.5 L910.2,398.9 L911.3,396.1 L912.4,393.3 L913.4,390.5 L914.5,387.7 L915.5,384.9 L916.5,382.1 L917.5,379.2 L918.5,376.4 L919.5,373.5 L920.5,370.7 L921.4,367.8 L922.4,365.0 L923.3,362.1 L924.2,359.1 L925.1,356.2 L926.0,353.3 L926.9,350.4 L927.7,347.4 L928.6,344.5 L929.4,341.5 L930.2,338.6 L931.1,335.6 L931.9,332.6 L932.7,329.7 L933.6,326.7 L934.4,323.8 L935.3,320.9 L936.1,318.1 L937.0,315.2 L937.9,312.3 L938.8,309.5 L939.7,306.6 L940.6,303.7 L941.5,300.8 L942.5,298.0 L943.4,295.1 L944.3,292.2 L945.2,289.3 L946.1,286.4 L947.0,283.5 L947.9,280.6 L948.8,277.7 L949.8,274.8 L950.7,271.9 L951.6,269.0 L952.5,266.1 L953.4,263.3 L954.3,260.5 L955.2,257.7 L956.1,254.9 L957.0,252.1 L957.9,249.3 L958.8,246.4 L959.7,243.5 L960.6,240.6 L961.6,237.7 L962.5,234.8 L963.4,231.9 L964.3,229.0 L965.2,226.4 L966.1,223.7 L967.0,221.1 L967.9,218.4 L968.9,215.8 L969.8,213.1 L970.8,210.3 L971.7,207.3 L972.7,204.4 L973.8,201.5 L974.8,198.5 L976.0,195.6 L977.2,192.8 L978.5,189.9 L979.8,187.1 L981.1,184.3 L982.5,181.5 L983.8,178.6 L985.0,175.7 L986.3,172.8 L987.5,169.8 L988.7,167.1 L989.9,164.6 L991.1,162.1 L992.4,159.7 L993.8,157.2 L995.2,154.6 L996.6,151.9 L998.1,149.3 L999.7,146.7 L1001.4,144.1 L1003.2,141.6 L1005.1,139.2 L1007.1,136.9 L1009.2,134.7 L1011.4,132.6 L1013.6,130.4 L1015.8,128.2 L1018.1,126.0 L1020.4,124.8 L1022.8,123.5 L1025.1,122.0 L1027.5,120.1 L1030.0,118.2 L1032.6,117.4 L1035.2,116.7 L1037.9,115.2 L1040.7,113.3 L1043.5,112.0 L1046.4,111.0 L1049.2,110.2 L1052.1,109.9 L1055.0,109.2 L1057.9,108.1 L1060.8,107.0 L1063.7,106.3 L1066.6,105.6 L1069.6,104.9 L1072.5,104.1 L1075.5,103.5 L1078.4,103.0 L1081.4,103.1 L1084.3,103.2 L1087.3,102.5 L1090.2,101.9 L1093.2,101.6 L1096.2,101.3 L1099.1,100.3 L1102.1,99.2 L1105.1,98.9 L1108.0,98.6 L1111.0,97.9 L1114.0,97.2 L1117.0,97.4 L1119.9,97.6 L1122.9,96.6 L1125.9,95.6 L1128.9,95.9 L1131.9,96.2 L1134.9,96.1 L1137.9,96.1 L1140.9,95.9 L1143.8,95.8 L1146.8,95.0 L1149.8,94.1 L1152.8,94.5 L1155.8,94.9 L1158.8,94.3 L1161.8,93.6 L1164.8,93.4 L1167.8,93.3 L1170.8,93.0 L1173.8,92.8 L1176.8,93.3 L1179.8,94.0 L1182.8,94.1 L1185.8,94.2 L1188.8,93.5 L1191.8,92.8 L1194.8,92.6 L1197.8,92.5 L1200.8,92.5 L1203.8,92.6 L1206.8,93.3 L1209.8,94.1 L1212.8,93.6 L1215.8,93.1 L1218.8,92.6 L1221.8,92.1 L1224.8,91.6 L1227.8,91.2 L1230.8,91.4 L1233.8,91.7 L1236.8,92.2 L1239.8,92.7 L1242.8,92.9 L1245.8,93.1 L1248.8,92.4 L1251.8,91.8 L1254.8,91.6 L1257.8,91.4 L1260.8,91.4 L1263.8,91.4 L1266.8,91.0 L1269.8,90.6 L1272.8,91.3 L1275.8,92.1 L1278.8,91.6 L1281.8,90.9 L1284.8,91.5 L1287.8,92.1 L1290.8,91.3 L1293.8,90.4 L1296.8,90.5 L1299.8,90.6 L1302.8,91.0 L1305.8,91.4 L1308.8,91.1 L1311.8,90.8 L1314.8,91.2 L1317.8,91.6 L1320.8,91.4 L1323.8,91.2 L1326.8,90.8 L1329.8,90.4 L1332.8,90.9 L1335.8,91.4 L1338.8,91.5 L1341.8,91.5 L1344.8,90.7 L1347.8,89.9 L1350.8,90.8 L1353.8,91.9 L1356.8,91.6 L1359.8,91.2 L1362.8,91.2 L1365.8,91.2 L1368.8,90.5 L1371.8,89.7 L1374.8,89.9 L1377.8,90.2 L1380.8,90.3 L1383.8,90.4 L1386.8,90.8 L1389.8,91.2 L1392.8,90.5 L1395.8,89.7 L1398.8,89.8 L1401.8,89.9 L1404.8,89.6 L1407.8,89.2 L1410.8,89.7 L1413.8,90.2 L1416.8,90.4 L1419.8,90.5 L1422.8,89.9 L1425.8,89.3 L1428.8,89.5 L1431.8,89.8 L1434.8,90.1 L1437.8,90.4 L1440.8,90.7" stroke="#79B948"/>
<path d="M784.0,504.8 L787.0,505.0 L790.0,505.1 L792.9,505.0 L795.9,504.8 L798.8,504.4 L801.7,503.8 L804.5,502.8 L807.3,501.7 L810.0,500.8 L812.8,500.0 L815.5,498.8 L818.2,497.1 L820.8,495.4 L823.5,493.6 L826.1,491.9 L828.7,491.1 L831.3,490.2 L833.8,488.7 L836.3,486.9 L838.8,485.0 L841.2,483.0 L843.6,481.0 L845.9,478.9 L848.2,476.8 L850.4,474.6 L852.6,472.3 L854.8,469.9 L856.9,467.7 L859.0,465.7 L861.0,463.7 L863.0,461.8 L865.0,459.9 L866.9,457.9 L868.7,455.7 L870.5,453.0 L872.2,450.2 L873.9,447.4 L875.5,444.8 L877.1,442.2 L878.6,439.5 L880.0,436.8 L881.4,434.4 L882.8,431.9 L884.1,429.4 L885.4,426.9 L886.7,424.3 L888.0,421.6 L889.2,418.9 L890.4,416.1 L891.6,413.4 L892.8,410.7 L894.0,408.0 L895.2,405.3 L896.4,402.5 L897.6,399.8 L898.8,397.1 L900.0,394.3 L901.2,391.6 L902.3,388.8 L903.5,386.1 L904.6,383.4 L905.8,380.7 L906.9,378.0 L908.0,375.3 L909.1,372.6 L910.2,369.8 L911.2,366.7 L912.3,363.7 L913.3,360.6 L914.2,357.6 L915.2,354.5 L916.1,351.5 L917.0,348.8 L917.8,346.1 L918.7,343.3 L919.5,340.6 L920.3,337.9 L921.1,335.1 L922.0,332.4 L922.8,329.4 L923.6,326.3 L924.5,323.3 L925.3,320.2 L926.2,317.2 L927.1,314.1 L928.0,311.1 L928.9,308.4 L929.8,305.7 L930.7,303.0 L931.6,300.3 L932.5,297.6 L933.4,294.8 L934.3,292.1 L935.2,289.2 L936.2,286.3 L937.1,283.4 L938.0,280.5 L939.0,277.6 L939.9,274.7 L940.8,271.8 L941.8,269.0 L942.7,266.1 L943.7,263.3 L944.7,260.5 L945.6,257.6 L946.6,254.8 L947.6,252.1 L948.5,249.3 L949.5,246.5 L950.5,243.8 L951.4,241.0 L952.4,238.2 L953.4,235.2 L954.3,232.3 L955.3,229.4 L956.3,226.4 L957.2,223.5 L958.2,220.6 L959.2,217.9 L960.2,215.1 L961.2,212.4 L962.2,209.7 L963.2,207.0 L964.3,204.3 L965.4,201.5 L966.5,198.7 L967.7,195.9 L969.0,193.2 L970.4,190.4 L971.8,187.7 L973.2,184.9 L974.6,182.2 L975.9,179.4 L977.2,176.6 L978.5,173.8 L979.8,171.0 L981.1,168.2 L982.4,165.4 L983.8,162.8 L985.2,160.1 L986.7,157.5 L988.2,154.9 L989.8,152.3 L991.3,149.8 L993.0,147.4 L994.7,144.9 L996.5,142.6 L998.3,140.3 L1000.2,138.0 L1002.2,135.8 L1004.2,133.7 L1006.3,131.6 L1008.4,130.1 L1010.6,128.7 L1012.8,126.9 L1015.1,124.5 L1017.5,122.1 L1019.9,120.2 L1022.4,118.7 L1025.0,117.1 L1027.7,115.3 L1030.4,113.7 L1033.2,112.7 L1036.0,111.7 L1038.9,110.8 L1041.7,110.0 L1044.6,109.2 L1047.5,108.6 L1050.4,107.6 L1053.3,106.5 L1056.2,106.4 L1059.2,106.5 L1062.1,105.7 L1065.0,104.4 L1068.0,104.0 L1070.9,103.9 L1073.9,102.9 L1076.8,101.4 L1079.8,101.0 L1082.8,101.2 L1085.7,101.0 L1088.7,100.7 L1091.7,100.2 L1094.6,99.8 L1097.6,99.4 L1100.6,99.0 L1103.5,98.6 L1106.5,98.1 L1109.5,97.7 L1112.4,97.2 L1115.4,96.6 L1118.4,95.6 L1121.4,95.1 L1124.4,95.2 L1127.4,94.9 L1130.3,94.1 L1133.3,94.0 L1136.3,94.7 L1139.3,94.9 L1142.3,94.6 L1145.3,94.3 L1148.3,94.0 L1151.3,93.7 L1154.3,93.4 L1157.3,93.1 L1160.3,93.1 L1163.3,93.3 L1166.3,93.9 L1169.3,94.2 L1172.3,94.1 L1175.3,93.7 L1178.3,93.1 L1181.3,92.9 L1184.3,93.2 L1187.3,93.0 L1190.3,92.1 L1193.3,91.5 L1196.3,91.3 L1199.3,91.4 L1202.3,91.8 L1205.3,91.9 L1208.3,91.7 L1211.3,91.6 L1214.3,91.6 L1217.3,91.7 L1220.3,91.9 L1223.3,92.3 L1226.3,93.1 L1229.3,93.1 L1232.3,91.9 L1235.3,91.3 L1238.3,91.5 L1241.3,91.6 L1244.3,91.6 L1247.3,91.6 L1250.3,91.4 L1253.3,91.5 L1256.3,91.7 L1259.3,92.0 L1262.3,92.2 L1265.3,91.9 L1268.3,91.0 L1271.3,90.6 L1274.3,91.0 L1277.3,91.1 L1280.3,91.0 L1283.3,91.0 L1286.3,91.1 L1289.3,91.0 L1292.3,90.4 L1295.3,90.0 L1298.3,89.9 L1301.3,89.8 L1304.3,89.6 L1307.3,89.8 L1310.3,90.6 L1313.3,91.1 L1316.3,91.0 L1319.3,90.9 L1322.3,90.8 L1325.3,90.5 L1328.3,89.7 L1331.3,89.5 L1334.3,90.1 L1337.3,90.4 L1340.3,90.2 L1343.3,90.1 L1346.3,89.9 L1349.3,89.8 L1352.3,89.9 L1355.3,90.2 L1358.3,90.6 L1361.3,90.9 L1364.3,90.8 L1367.3,90.7 L1370.3,90.5 L1373.3,90.5 L1376.3,90.6 L1379.3,90.5 L1382.3,90.2 L1385.3,90.0 L1388.3,90.2 L1391.3,90.3 L1394.3,90.3 L1397.3,90.3 L1400.3,90.4 L1403.3,90.4 L1406.3,90.2 L1409.3,90.1 L1412.3,90.0 L1415.3,90.0 L1418.3,90.0 L1421.3,89.9 L1424.3,89.7 L1427.3,90.0 L1430.3,90.8 L1433.3,91.1 L1436.3,90.5 L1439.3,90.2" stroke="#EFC233"/>
<path d="M784.0,498.4 L786.9,498.1 L789.7,497.9 L792.6,497.1 L795.5,496.2 L798.3,495.6 L801.2,494.9 L804.0,493.9 L806.8,492.8 L809.6,491.6 L812.4,490.3 L815.2,488.8 L817.9,486.9 L820.5,485.2 L823.1,483.8 L825.7,482.3 L828.2,480.9 L830.7,479.5 L833.1,477.9 L835.4,476.1 L837.7,474.2 L839.9,471.9 L842.1,469.5 L844.2,467.1 L846.3,465.1 L848.3,463.0 L850.2,460.8 L852.2,458.5 L854.0,456.1 L855.8,453.7 L857.6,451.4 L859.3,449.0 L861.0,446.6 L862.6,444.2 L864.2,441.7 L865.8,439.2 L867.3,436.6 L868.8,434.0 L870.3,431.3 L871.7,428.5 L873.1,425.8 L874.5,423.0 L875.8,420.2 L877.1,417.4 L878.4,414.6 L879.7,411.8 L881.0,409.3 L882.3,406.9 L883.6,404.5 L884.8,402.1 L886.1,399.6 L887.3,397.0 L888.6,394.3 L889.8,391.6 L891.0,388.9 L892.3,386.1 L893.4,383.2 L894.6,380.2 L895.8,377.3 L896.9,374.3 L898.1,371.3 L899.2,368.7 L900.3,366.0 L901.3,363.3 L902.4,360.6 L903.4,357.9 L904.4,355.1 L905.3,352.2 L906.3,349.3 L907.2,346.4 L908.1,343.5 L909.0,340.6 L909.8,337.7 L910.7,334.8 L911.6,331.9 L912.5,329.1 L913.3,326.2 L914.2,323.4 L915.2,320.6 L916.1,317.7 L917.0,314.9 L918.0,312.0 L919.0,309.2 L919.9,306.3 L920.9,303.4 L921.9,300.6 L922.8,297.6 L923.8,294.7 L924.8,291.7 L925.7,288.8 L926.7,285.8 L927.7,282.8 L928.7,280.0 L929.6,277.3 L930.6,274.6 L931.5,271.9 L932.5,269.2 L933.4,266.5 L934.4,263.7 L935.3,260.9 L936.3,258.1 L937.2,255.3 L938.2,252.5 L939.2,249.7 L940.1,246.9 L941.1,243.9 L942.1,240.8 L943.1,237.8 L944.1,234.8 L945.0,231.8 L946.0,228.8 L947.0,226.2 L948.0,223.7 L949.0,221.1 L950.0,218.6 L951.0,216.0 L952.0,213.5 L953.1,210.7 L954.1,207.9 L955.2,205.1 L956.3,202.4 L957.5,199.6 L958.7,196.9 L960.0,194.1 L961.3,191.4 L962.7,188.7 L964.1,186.0 L965.4,183.3 L966.8,180.7 L968.0,178.0 L969.3,175.3 L970.5,172.5 L971.8,169.6 L973.1,166.8 L974.5,164.0 L976.0,161.2 L977.5,158.4 L979.0,155.6 L980.6,152.9 L982.1,150.2 L983.7,147.6 L985.4,145.1 L987.1,142.6 L988.9,140.1 L990.8,137.8 L992.7,135.4 L994.7,133.2 L996.7,131.1 L998.7,129.2 L1000.9,127.2 L1003.1,125.1 L1005.4,123.2 L1007.8,121.6 L1010.3,120.1 L1012.9,118.5 L1015.6,116.4 L1018.3,114.6 L1021.1,114.7 L1023.9,114.8 L1026.7,113.9 L1029.5,112.9 L1032.4,111.4 L1035.2,109.8 L1038.1,108.9 L1041.0,108.3 L1043.9,107.5 L1046.8,106.8 L1049.7,106.1 L1052.6,105.5 L1055.6,104.8 L1058.6,104.2 L1061.5,103.6 L1064.5,103.2 L1067.4,102.6 L1070.4,101.9 L1073.3,101.4 L1076.3,101.3 L1079.3,101.0 L1082.3,100.5 L1085.2,100.1 L1088.2,99.7 L1091.2,99.2 L1094.1,98.4 L1097.1,97.9 L1100.1,97.7 L1103.0,97.5 L1106.0,97.1 L1109.0,96.8 L1112.0,96.6 L1114.9,96.2 L1117.9,95.4 L1120.9,94.8 L1123.9,95.0 L1126.9,95.1 L1129.9,95.0 L1132.9,94.9 L1135.9,94.6 L1138.8,94.2 L1141.8,93.7 L1144.8,93.3 L1147.8,93.1 L1150.8,93.0 L1153.8,92.9 L1156.8,92.9 L1159.8,93.1 L1162.8,93.2 L1165.8,93.4 L1168.8,93.3 L1171.8,92.7 L1174.8,92.2 L1177.8,92.0 L1180.8,91.9 L1183.8,92.1 L1186.8,92.3 L1189.8,92.2 L1192.8,92.0 L1195.8,91.6 L1198.8,91.3 L1201.8,91.3 L1204.8,91.3 L1207.8,91.4 L1210.8,91.6 L1213.8,91.7 L1216.8,91.7 L1219.8,91.1 L1222.8,90.6 L1225.8,90.6 L1228.8,90.7 L1231.8,91.1 L1234.8,91.3 L1237.8,90.7 L1240.8,90.4 L1243.8,90.7 L1246.8,91.0 L1249.8,91.1 L1252.8,91.0 L1255.8,90.9 L1258.8,90.7 L1261.8,90.4 L1264.8,90.2 L1267.8,90.5 L1270.8,90.6 L1273.8,90.5 L1276.8,90.5 L1279.8,90.7 L1282.8,90.7 L1285.8,90.3 L1288.8,90.2 L1291.8,90.7 L1294.8,90.9 L1297.8,90.1 L1300.8,89.6 L1303.8,90.0 L1306.8,90.3 L1309.8,90.4 L1312.8,90.5 L1315.8,90.7 L1318.8,90.8 L1321.8,90.3 L1324.8,90.0 L1327.8,90.4 L1330.8,90.5 L1333.8,90.2 L1336.8,90.0 L1339.8,90.4 L1342.8,90.8 L1345.8,91.0 L1348.8,91.1 L1351.8,90.4 L1354.8,90.0 L1357.8,90.2 L1360.8,90.3 L1363.8,89.9 L1366.8,89.7 L1369.8,90.3 L1372.8,90.7 L1375.8,90.7 L1378.8,90.7 L1381.8,90.3 L1384.8,89.9 L1387.8,89.6 L1390.8,89.4 L1393.8,89.8 L1396.8,90.2 L1399.8,90.4 L1402.8,90.6 L1405.8,90.5 L1408.8,90.5 L1411.8,90.4 L1414.8,90.1 L1417.8,89.3 L1420.8,88.8 L1423.8,89.1 L1426.8,89.5 L1429.8,90.1 L1432.8,90.3 L1435.8,89.5 L1438.8,89.1" stroke="#EA6130"/>
<path d="M784.0,496.6 L786.4,494.4 L788.8,492.4 L791.4,490.5 L794.0,488.9 L796.7,487.5 L799.5,486.6 L802.2,485.7 L804.9,484.4 L807.6,483.0 L810.2,481.6 L812.8,480.1 L815.3,478.6 L817.8,477.1 L820.2,475.5 L822.6,473.5 L825.0,471.4 L827.3,469.5 L829.5,467.6 L831.7,465.6 L833.8,463.5 L835.9,461.4 L838.0,459.3 L840.0,457.0 L841.9,454.6 L843.9,452.3 L845.8,450.2 L847.6,448.2 L849.3,446.1 L850.9,443.6 L852.5,440.8 L854.0,438.0 L855.4,435.1 L856.8,432.4 L858.2,429.7 L859.6,427.0 L861.0,424.2 L862.3,421.5 L863.6,418.8 L865.0,416.1 L866.3,413.3 L867.6,410.6 L868.9,407.9 L870.3,405.1 L871.6,402.4 L872.9,399.6 L874.3,397.0 L875.6,394.5 L877.0,392.1 L878.4,389.7 L879.7,387.3 L881.1,384.6 L882.5,381.8 L883.8,378.9 L885.1,376.1 L886.5,373.2 L887.7,370.3 L889.0,367.5 L890.2,364.6 L891.4,361.7 L892.5,358.8 L893.6,356.1 L894.6,353.3 L895.6,350.6 L896.6,347.8 L897.5,344.9 L898.4,342.1 L899.2,339.3 L900.1,336.4 L900.9,333.6 L901.8,330.8 L902.6,327.9 L903.5,325.1 L904.4,322.2 L905.3,319.4 L906.2,316.5 L907.2,313.6 L908.1,310.7 L909.1,307.8 L910.0,305.0 L911.0,302.3 L911.9,299.6 L912.9,296.9 L913.9,294.2 L914.8,291.5 L915.8,288.8 L916.8,285.8 L917.7,282.8 L918.7,279.7 L919.7,276.7 L920.6,273.6 L921.6,270.5 L922.5,267.7 L923.5,265.0 L924.4,262.3 L925.4,259.6 L926.4,257.0 L927.3,254.3 L928.3,251.5 L929.3,248.7 L930.3,245.8 L931.2,242.9 L932.2,240.1 L933.2,237.2 L934.3,234.3 L935.3,231.4 L936.3,228.4 L937.3,225.4 L938.3,222.5 L939.4,219.5 L940.4,216.7 L941.4,214.0 L942.5,211.3 L943.6,208.6 L944.6,206.0 L945.7,203.3 L946.8,200.6 L948.0,197.8 L949.2,195.0 L950.4,192.2 L951.6,189.5 L952.9,186.8 L954.2,184.2 L955.5,181.6 L956.8,178.9 L958.1,176.3 L959.4,173.5 L960.8,170.7 L962.3,167.9 L963.8,165.2 L965.3,162.7 L966.9,160.3 L968.5,157.8 L970.0,155.4 L971.5,152.5 L973.1,149.6 L974.6,146.8 L976.3,144.0 L978.0,141.7 L979.9,139.4 L981.8,137.3 L983.8,135.4 L985.9,133.6 L988.0,131.9 L990.2,129.9 L992.4,127.9 L994.6,125.8 L996.8,123.5 L999.0,121.3 L1001.2,119.2 L1003.5,117.2 L1006.0,115.5 L1008.7,114.7 L1011.4,114.1 L1014.3,112.6 L1017.2,110.9 L1020.1,110.1 L1023.0,109.7 L1025.9,109.4 L1028.8,109.0 L1031.6,108.4 L1034.5,107.5 L1037.4,106.5 L1040.3,105.4 L1043.3,104.4 L1046.2,103.6 L1049.2,103.4 L1052.2,103.9 L1055.1,103.9 L1058.1,103.1 L1061.1,102.3 L1064.0,101.6 L1067.0,101.0 L1070.0,100.9 L1072.9,100.8 L1075.9,100.6 L1078.9,100.1 L1081.9,98.6 L1084.8,97.8 L1087.8,98.5 L1090.8,98.9 L1093.7,98.3 L1096.7,97.7 L1099.7,96.4 L1102.7,95.6 L1105.6,96.0 L1108.6,96.2 L1111.6,95.1 L1114.6,94.3 L1117.6,94.8 L1120.5,95.2 L1123.5,94.7 L1126.5,94.4 L1129.5,94.7 L1132.5,94.8 L1135.5,93.8 L1138.5,92.9 L1141.5,92.9 L1144.5,93.0 L1147.5,93.1 L1150.5,93.2 L1153.5,92.5 L1156.5,92.0 L1159.5,91.8 L1162.5,91.7 L1165.5,91.7 L1168.5,91.7 L1171.5,91.7 L1174.5,91.7 L1177.5,91.3 L1180.5,91.1 L1183.5,91.5 L1186.5,91.8 L1189.5,91.8 L1192.5,91.7 L1195.5,91.5 L1198.5,91.4 L1201.5,91.9 L1204.5,92.1 L1207.5,91.5 L1210.5,90.9 L1213.5,91.4 L1216.5,91.6 L1219.5,91.0 L1222.5,90.5 L1225.5,90.9 L1228.5,91.0 L1231.5,90.2 L1234.4,89.5 L1237.4,90.1 L1240.4,90.6 L1243.4,90.5 L1246.4,90.3 L1249.4,90.2 L1252.4,90.1 L1255.4,90.0 L1258.4,89.9 L1261.4,90.0 L1264.4,90.0 L1267.4,89.9 L1270.4,89.7 L1273.4,89.2 L1276.4,88.9 L1279.4,89.4 L1282.4,89.8 L1285.4,89.8 L1288.4,89.7 L1291.4,89.7 L1294.4,89.7 L1297.4,89.5 L1300.4,89.4 L1303.4,89.7 L1306.4,89.9 L1309.4,90.2 L1312.4,90.4 L1315.4,90.0 L1318.4,89.8 L1321.4,89.7 L1324.4,89.7 L1327.4,90.2 L1330.4,90.7 L1333.4,90.6 L1336.4,90.5 L1339.4,90.4 L1342.4,90.4 L1345.4,90.5 L1348.4,90.5 L1351.4,90.0 L1354.4,89.6 L1357.4,89.7 L1360.4,89.8 L1363.4,90.1 L1366.4,90.4 L1369.4,89.9 L1372.4,89.4 L1375.4,89.5 L1378.4,89.7 L1381.4,89.8 L1384.4,89.9 L1387.4,89.9 L1390.4,89.9 L1393.4,89.6 L1396.4,89.5 L1399.4,89.9 L1402.4,90.1 L1405.4,89.8 L1408.4,89.5 L1411.4,89.8 L1414.4,90.0 L1417.4,90.1 L1420.4,90.1 L1423.4,90.0 L1426.4,89.9 L1429.4,89.9 L1432.4,89.8 L1435.4,89.2 L1438.4,88.7" stroke="#DC1F30"/>
</g>
<rect x="124.5" y="15.0" width="659.1" height="538.4" fill="none" stroke="#000" stroke-width="2.4"/>
<rect x="783.6" y="15.0" width="659.0" height="538.4" fill="none" stroke="#000" stroke-width="2.4"/>
<g font-family="Liberation Sans, Arial, Helvetica, sans-serif" font-size="35" fill="#1a1a1a">
<text x="117.5" y="522.9" text-anchor="end">0</text>
<text x="117.5" y="357.1" text-anchor="end">100</text>
<text x="117.5" y="191.3" text-anchor="end">200</text>
<text x="117.5" y="25.5" text-anchor="end">300</text>
<text x="145.8" y="587.5" text-anchor="middle">2</text>
<text x="358.4" y="587.5" text-anchor="middle">3</text>
<text x="571.0" y="587.5" text-anchor="middle">4</text>
<text x="804.9" y="587.5" text-anchor="middle">2</text>
<text x="1017.4" y="587.5" text-anchor="middle">3</text>
<text x="1230.0" y="587.5" text-anchor="middle">4</text>
<text x="1442.6" y="587.5" text-anchor="middle">5</text>
</g>
<g font-family="Liberation Sans, Arial, Helvetica, sans-serif" font-size="35" fill="#1a1a1a">
<text x="455.1" y="639.5" text-anchor="middle"><tspan font-style="italic">T</tspan> (K)</text>
<text x="1114.1" y="639.5" text-anchor="middle"><tspan font-style="italic">T</tspan> (K)</text>
<text transform="translate(24,259) rotate(-90)" text-anchor="middle"><tspan font-style="italic">R</tspan> (<tspan font-family="Liberation Serif, serif">Ω</tspan>)</text>
</g>
<g font-family="Liberation Sans, Arial, Helvetica, sans-serif" font-size="49" font-weight="bold" fill="#1a1a1a">
<text x="146.5" y="64">a</text>
<text transform="translate(848.3,63.7) scale(1.07,1)" font-size="50">b</text>
<text transform="translate(1622.1,63.4) scale(1.05,1.01)">c</text>
</g>
<text font-family="Liberation Sans, Arial, Helvetica, sans-serif" font-size="33.5" fill="#1a1a1a" transform="translate(483.2,64.0) scale(1,1.04)">Monolayer NbSe<tspan font-size="20" dx="-0.9" dy="2.1">2</tspan></text>
<text font-family="Liberation Sans, Arial, Helvetica, sans-serif" font-size="33.5" fill="#1a1a1a" transform="translate(1142.4,64.0) scale(1,1.04)">Monolayer NbSe<tspan font-size="20" dx="-0.9" dy="2.1">2</tspan></text>
<text font-family="Liberation Sans, Arial, Helvetica, sans-serif" font-size="33.5" fill="#1a1a1a" transform="translate(1662.2,112.6) scale(1,1.04)">Monolayer NbSe<tspan font-size="20" dx="-0.9" dy="2.1">2</tspan></text>
<g font-family="Liberation Sans, Arial, Helvetica, sans-serif" fill="#1a1a1a">
<text x="607.9" y="216.3" font-size="29.2" font-family="DejaVu Sans, sans-serif">μ</text><text x="627.9" y="222.3" font-size="27">0</text><text x="643.5" y="216" font-size="34.9" font-style="italic">H</text><text transform="translate(663.8,221.5) scale(1,0.876)" font-size="26.6" stroke="#1a1a1a" stroke-width="0.7">⊥</text><text x="684.8" y="214.3" font-size="32.5" stroke="#1a1a1a" stroke-width="0.4">=</text>
<line x1="621.6" x2="646.8" y1="248.8" y2="248.8" stroke="#6B4A9E" stroke-width="4.3"/>
<text x="664.5" y="256.8" font-size="23">0.0T</text>
<line x1="621.6" x2="646.8" y1="275.8" y2="275.8" stroke="#45419A" stroke-width="4.3"/>
<text x="664.5" y="283.8" font-size="23">0.1T</text>
<line x1="621.6" x2="646.8" y1="302.7" y2="302.7" stroke="#3A5BA6" stroke-width="4.3"/>
<text x="664.5" y="310.7" font-size="23">0.2T</text>
<line x1="621.6" x2="646.8" y1="329.6" y2="329.6" stroke="#2AB7E3" stroke-width="4.3"/>
<text x="664.5" y="337.6" font-size="23">0.3T</text>
<line x1="621.6" x2="646.8" y1="356.6" y2="356.6" stroke="#60B86E" stroke-width="4.3"/>
<text x="664.5" y="364.6" font-size="23">0.4T</text>
<line x1="621.6" x2="646.8" y1="383.6" y2="383.6" stroke="#79B948" stroke-width="4.3"/>
<text x="664.5" y="391.6" font-size="23">0.6T</text>
<line x1="621.6" x2="646.8" y1="410.5" y2="410.5" stroke="#EFC233" stroke-width="4.3"/>
<text x="664.5" y="418.5" font-size="23">0.8T</text>
<line x1="621.6" x2="646.8" y1="437.5" y2="437.5" stroke="#EA6130" stroke-width="4.3"/>
<text x="664.5" y="445.5" font-size="23">1.0T</text>
<line x1="621.6" x2="646.8" y1="464.4" y2="464.4" stroke="#DC1F30" stroke-width="4.3"/>
<text x="664.5" y="472.4" font-size="23">2.0T</text>
<text x="1291" y="196" font-size="28.8" font-family="DejaVu Sans, sans-serif">μ</text><text x="1309.9" y="201.8" font-size="27.9">0</text><text x="1326.6" y="195.3" font-size="34" font-style="italic">H</text><text x="1350" y="204.6" font-size="27">//</text><text x="1364.3" y="194.7" font-size="33.3">=</text>
<line x1="1311.6" x2="1339.5" y1="231.9" y2="231.9" stroke="#6B4A9E" stroke-width="4.5"/>
<text x="1359.8" y="240.9" font-size="25">0T</text>
<line x1="1311.6" x2="1339.5" y1="262.2" y2="262.2" stroke="#45419A" stroke-width="4.5"/>
<text x="1359.8" y="271.2" font-size="25">1T</text>
<line x1="1311.6" x2="1339.5" y1="292.5" y2="292.5" stroke="#3A5BA6" stroke-width="4.5"/>
<text x="1359.8" y="301.5" font-size="25">2T</text>
<line x1="1311.6" x2="1339.5" y1="322.8" y2="322.8" stroke="#2AB7E3" stroke-width="4.5"/>
<text x="1359.8" y="331.8" font-size="25">3T</text>
<line x1="1311.6" x2="1339.5" y1="353.1" y2="353.1" stroke="#60B86E" stroke-width="4.5"/>
<text x="1359.8" y="362.1" font-size="25">4T</text>
<line x1="1311.6" x2="1339.5" y1="383.4" y2="383.4" stroke="#79B948" stroke-width="4.5"/>
<text x="1359.8" y="392.4" font-size="25">5T</text>
<line x1="1311.6" x2="1339.5" y1="413.7" y2="413.7" stroke="#EFC233" stroke-width="4.5"/>
<text x="1359.8" y="422.7" font-size="25">6T</text>
<line x1="1311.6" x2="1339.5" y1="444.0" y2="444.0" stroke="#EA6130" stroke-width="4.5"/>
<text x="1359.8" y="453.0" font-size="25">7T</text>
<line x1="1311.6" x2="1339.5" y1="474.3" y2="474.3" stroke="#DC1F30" stroke-width="4.5"/>
<text x="1359.8" y="483.3" font-size="25">8T</text>
</g>
<path d="M1585.8,102.0 L1587.5,103.1 L1589.2,104.2 L1591.0,105.3 L1592.7,106.5 L1594.4,107.6 L1596.1,108.8 L1597.8,109.9 L1599.6,111.1 L1601.3,112.2 L1603.0,113.4 L1604.7,114.5 L1606.4,115.7 L1608.2,116.8 L1609.9,118.0 L1611.6,119.2 L1613.3,120.4 L1615.0,121.5 L1616.8,122.7 L1618.5,123.9 L1620.2,125.1 L1621.9,126.3 L1623.7,127.5 L1625.4,128.7 L1627.1,129.9 L1628.8,131.1 L1630.5,132.3 L1632.3,133.5 L1634.0,134.7 L1635.7,135.9 L1637.4,137.1 L1639.1,138.3 L1640.9,139.6 L1642.6,140.8 L1644.3,142.0 L1646.0,143.3 L1647.7,144.5 L1649.5,145.8 L1651.2,147.0 L1652.9,148.3 L1654.6,149.5 L1656.3,150.8 L1658.1,152.0 L1659.8,153.3 L1661.5,154.6 L1663.2,155.9 L1664.9,157.1 L1666.7,158.4 L1668.4,159.7 L1670.1,161.0 L1671.8,162.3 L1673.5,163.6 L1675.3,164.9 L1677.0,166.2 L1678.7,167.6 L1680.4,168.9 L1682.1,170.2 L1683.9,171.5 L1685.6,172.9 L1687.3,174.2 L1689.0,175.5 L1690.8,176.9 L1692.5,178.2 L1694.2,179.6 L1695.9,181.0 L1697.6,182.3 L1699.4,183.7 L1701.1,185.1 L1702.8,186.5 L1704.5,187.9 L1706.2,189.3 L1708.0,190.7 L1709.7,192.1 L1711.4,193.5 L1713.1,194.9 L1714.8,196.3 L1716.6,197.7 L1718.3,199.2 L1720.0,200.6 L1721.7,202.1 L1723.4,203.5 L1725.2,205.0 L1726.9,206.4 L1728.6,207.9 L1730.3,209.4 L1732.0,210.9 L1733.8,212.3 L1735.5,213.8 L1737.2,215.3 L1738.9,216.9 L1740.6,218.4 L1742.4,219.9 L1744.1,221.4 L1745.8,223.0 L1747.5,224.5 L1749.2,226.0 L1751.0,227.6 L1752.7,229.2 L1754.4,230.7 L1756.1,232.3 L1757.8,233.9 L1759.6,235.5 L1761.3,237.1 L1763.0,238.7 L1764.7,240.4 L1766.5,242.0 L1768.2,243.6 L1769.9,245.3 L1771.6,246.9 L1773.3,248.6 L1775.1,250.3 L1776.8,251.9 L1778.5,253.6 L1780.2,255.3 L1781.9,257.1 L1783.7,258.8 L1785.4,260.5 L1787.1,262.3 L1788.8,264.0 L1790.5,265.8 L1792.3,267.6 L1794.0,269.3 L1795.7,271.1 L1797.4,272.9 L1799.1,274.8 L1800.9,276.6 L1802.6,278.4 L1804.3,280.3 L1806.0,282.2 L1807.7,284.1 L1809.5,286.0 L1811.2,287.9 L1812.9,289.8 L1814.6,291.7 L1816.3,293.7 L1818.1,295.6 L1819.8,297.6 L1821.5,299.6 L1823.2,301.6 L1824.9,303.7 L1826.7,305.7 L1828.4,307.8 L1830.1,309.9 L1831.8,312.0 L1833.6,314.1 L1835.3,316.2 L1837.0,318.4 L1838.7,320.6 L1840.4,322.8 L1842.2,325.0 L1843.9,327.2 L1845.6,329.5 L1847.3,331.8 L1849.0,334.1 L1850.8,336.4 L1852.5,338.8 L1854.2,341.2 L1855.9,343.6 L1857.6,346.0 L1859.4,348.5 L1861.1,351.0 L1862.8,353.5 L1864.5,356.1 L1866.2,358.7 L1868.0,361.3 L1869.7,364.0 L1871.4,366.7 L1873.1,369.5 L1874.8,372.3 L1876.6,375.1 L1878.3,378.0 L1880.0,380.9 L1881.7,383.9 L1883.4,387.0 L1885.2,390.1 L1886.9,393.2 L1888.6,396.4 L1890.3,399.7 L1892.0,403.1 L1893.8,406.5 L1895.5,410.0 L1897.2,413.6 L1898.9,417.3 L1900.7,421.1 L1902.4,425.1 L1904.1,429.1 L1905.8,433.3 L1907.5,437.6 L1909.3,442.1 L1911.0,446.8 L1912.7,451.8 L1914.4,456.9 L1916.1,462.4 L1917.9,468.2 L1919.6,474.5 L1921.3,481.3 L1923.0,488.8 L1924.7,497.3 L1926.5,507.4 L1928.2,520.6 L1929.9,552.5" fill="none" stroke="#2E4597" stroke-width="2.2"/>
<line x1="1585.8" y1="524.0" x2="1931" y2="552.5" stroke="#DA1F2E" stroke-width="2.2"/>
<circle cx="1896.3" cy="408.9" r="10.8" fill="none" stroke="#2E4597" stroke-width="1.8"/>
<circle cx="1902.5" cy="427.4" r="10.8" fill="none" stroke="#2E4597" stroke-width="1.8"/>
<circle cx="1908.6" cy="445.3" r="10.8" fill="none" stroke="#2E4597" stroke-width="1.8"/>
<circle cx="1914.5" cy="463.3" r="10.8" fill="none" stroke="#2E4597" stroke-width="1.8"/>
<circle cx="1919.2" cy="482.0" r="10.8" fill="none" stroke="#2E4597" stroke-width="1.8"/>
<circle cx="1924.0" cy="500.4" r="10.8" fill="none" stroke="#2E4597" stroke-width="1.8"/>
<circle cx="1928.5" cy="518.2" r="10.8" fill="none" stroke="#2E4597" stroke-width="1.8"/>
<circle cx="1932.5" cy="536.3" r="10.8" fill="none" stroke="#2E4597" stroke-width="1.8"/>
<circle cx="1848.4" cy="545.5" r="10.8" fill="none" stroke="#DA1F2E" stroke-width="1.8"/>
<circle cx="1869.8" cy="547.3" r="10.8" fill="none" stroke="#DA1F2E" stroke-width="1.8"/>
<circle cx="1890.5" cy="549.0" r="10.8" fill="none" stroke="#DA1F2E" stroke-width="1.8"/>
<circle cx="1911.1" cy="551.0" r="10.8" fill="none" stroke="#DA1F2E" stroke-width="1.8"/>
<circle cx="1936.3" cy="554.6" r="10.8" fill="none" stroke="#DA1F2E" stroke-width="1.8"/>
<rect x="1585.8" y="14.0" width="359.5" height="538.5" fill="none" stroke="#000" stroke-width="2.4"/>
<path d="M1647.8,552.5L1647.8,549.1M1647.8,14.0L1647.8,17.4M1709.8,552.5L1709.8,545.5M1709.8,14.0L1709.8,21.0M1771.8,552.5L1771.8,549.1M1771.8,14.0L1771.8,17.4M1833.8,552.5L1833.8,545.5M1833.8,14.0L1833.8,21.0M1895.8,552.5L1895.8,549.1M1895.8,14.0L1895.8,17.4M1585.8,462.8L1589.2,462.8M1945.3,462.8L1941.9,462.8M1585.8,373.0L1592.8,373.0M1945.3,373.0L1938.3,373.0M1585.8,283.2L1589.2,283.2M1945.3,283.2L1941.9,283.2M1585.8,193.5L1592.8,193.5M1945.3,193.5L1938.3,193.5M1585.8,103.8L1589.2,103.8M1945.3,103.8L1941.9,103.8" stroke="#000" stroke-width="2.2" fill="none"/>
<g font-family="Liberation Sans, Arial, Helvetica, sans-serif" font-size="35" fill="#1a1a1a">
<text x="1578" y="563.1" text-anchor="end">0</text>
<text x="1578" y="383.6" text-anchor="end">10</text>
<text x="1578" y="204.1" text-anchor="end">20</text>
<text x="1578" y="24.6" text-anchor="end">30</text>
<text x="1585.8" y="587.5" text-anchor="middle">0</text>
<text x="1709.8" y="587.5" text-anchor="middle">1</text>
<text x="1833.8" y="587.5" text-anchor="middle">2</text>
</g>
<g font-family="Liberation Sans, Arial, Helvetica, sans-serif" font-size="35" fill="#1a1a1a">
<text x="1767.5" y="639.5" text-anchor="middle"><tspan font-style="italic">T</tspan> (K)</text>
<text transform="translate(1515.5,263.5) rotate(-90)" text-anchor="middle"><tspan font-style="italic">H</tspan><tspan font-size="24" dy="8">c2</tspan><tspan dy="-8"> (T)</tspan></text>
</g>
<g font-family="Liberation Sans, Arial, Helvetica, sans-serif" fill="#2B2E86"><text x="1762.5" y="226.3" font-size="34" font-style="italic">H</text><text x="1786" y="235.6" font-size="26.5">c2,</text><text x="1821.5" y="236.4" font-size="27.5">//</text></g>
<g font-family="Liberation Sans, Arial, Helvetica, sans-serif" fill="#DA1F2E"><text x="1621.8" y="499.8" font-size="34.2" font-style="italic">H</text><text x="1645.6" y="508.5" font-size="26.3">c2,</text><text transform="translate(1678.8,505.6) scale(1,0.874)" font-size="26">⊥</text></g>
</svg></body></html>
